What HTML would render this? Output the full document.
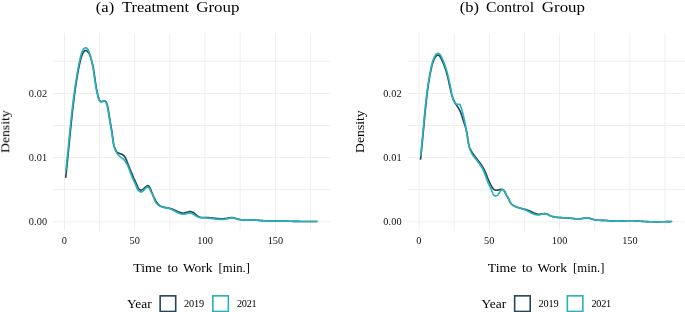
<!DOCTYPE html>
<html><head><meta charset="utf-8"><title>Density</title>
<style>
html,body{margin:0;padding:0;background:#fff;}
body{width:685px;height:312px;overflow:hidden;font-family:"Liberation Serif",serif;}
svg{display:block;font-family:"Liberation Serif",serif;}
.g line{stroke:#efefef;stroke-width:1;}
.t text{font-size:10.3px;fill:#111;}
.c path{fill:none;stroke-width:1.65;stroke-linejoin:round;stroke-linecap:butt;}
</style></head><body>
<svg width="685" height="312" viewBox="0 0 685 312">
<rect width="685" height="312" fill="#fff"/>
<g class="g">
<line x1="64.45" x2="64.45" y1="33.0" y2="230.8"/>
<line x1="99.61" x2="99.61" y1="33.0" y2="230.8"/>
<line x1="134.77" x2="134.77" y1="33.0" y2="230.8"/>
<line x1="169.92" x2="169.92" y1="33.0" y2="230.8"/>
<line x1="205.08" x2="205.08" y1="33.0" y2="230.8"/>
<line x1="240.24" x2="240.24" y1="33.0" y2="230.8"/>
<line x1="275.40" x2="275.40" y1="33.0" y2="230.8"/>
<line x1="310.55" x2="310.55" y1="33.0" y2="230.8"/>
<line x1="53.2" x2="330.1" y1="221.80" y2="221.80"/>
<line x1="53.2" x2="330.1" y1="189.70" y2="189.70"/>
<line x1="53.2" x2="330.1" y1="157.60" y2="157.60"/>
<line x1="53.2" x2="330.1" y1="125.50" y2="125.50"/>
<line x1="53.2" x2="330.1" y1="93.40" y2="93.40"/>
<line x1="53.2" x2="330.1" y1="61.30" y2="61.30"/>
<line x1="418.95" x2="418.95" y1="33.0" y2="230.8"/>
<line x1="454.11" x2="454.11" y1="33.0" y2="230.8"/>
<line x1="489.26" x2="489.26" y1="33.0" y2="230.8"/>
<line x1="524.42" x2="524.42" y1="33.0" y2="230.8"/>
<line x1="559.58" x2="559.58" y1="33.0" y2="230.8"/>
<line x1="594.74" x2="594.74" y1="33.0" y2="230.8"/>
<line x1="629.89" x2="629.89" y1="33.0" y2="230.8"/>
<line x1="665.05" x2="665.05" y1="33.0" y2="230.8"/>
<line x1="407.7" x2="684.6" y1="221.80" y2="221.80"/>
<line x1="407.7" x2="684.6" y1="189.70" y2="189.70"/>
<line x1="407.7" x2="684.6" y1="157.60" y2="157.60"/>
<line x1="407.7" x2="684.6" y1="125.50" y2="125.50"/>
<line x1="407.7" x2="684.6" y1="93.40" y2="93.40"/>
<line x1="407.7" x2="684.6" y1="61.30" y2="61.30"/>
</g>
<g class="c">
<path stroke="#264653" d="M65.67,177.80 L65.71,177.39 L65.76,176.98 L65.80,176.57 L65.85,176.16 L65.89,175.75 L65.94,175.34 L65.98,174.93 L66.03,174.52 L66.07,174.11 L66.12,173.70 L66.16,173.29 L66.21,172.88 L66.25,172.47 L66.30,172.06 L66.34,171.65 L66.38,171.24 L66.43,170.83 L66.47,170.42 L66.52,170.01 L66.56,169.60 L66.60,169.19 L66.65,168.78 L66.69,168.37 L66.73,167.96 L66.77,167.55 L66.82,167.14 L66.86,166.73 L66.90,166.32 L66.94,165.91 L66.99,165.50 L67.03,165.09 L67.07,164.68 L67.11,164.27 L67.16,163.86 L67.20,163.45 L67.24,163.03 L67.28,162.62 L67.32,162.21 L67.37,161.80 L67.41,161.39 L67.45,160.98 L67.49,160.57 L67.53,160.16 L67.57,159.75 L67.61,159.34 L67.66,158.93 L67.70,158.52 L67.74,158.11 L67.78,157.70 L67.82,157.29 L67.86,156.88 L67.90,156.47 L67.94,156.06 L67.98,155.65 L68.02,155.24 L68.06,154.83 L68.10,154.42 L68.14,154.01 L68.19,153.60 L68.23,153.19 L68.27,152.78 L68.31,152.37 L68.35,151.96 L68.39,151.54 L68.43,151.13 L68.47,150.72 L68.51,150.31 L68.55,149.90 L68.59,149.49 L68.63,149.08 L68.67,148.67 L68.71,148.26 L68.75,147.85 L68.79,147.44 L68.83,147.03 L68.87,146.62 L68.91,146.21 L68.95,145.80 L68.99,145.39 L69.03,144.98 L69.07,144.57 L69.11,144.16 L69.15,143.75 L69.19,143.34 L69.23,142.93 L69.27,142.52 L69.31,142.11 L69.35,141.70 L69.39,141.29 L69.43,140.88 L69.47,140.47 L69.51,140.06 L69.55,139.65 L69.59,139.23 L69.63,138.82 L69.67,138.41 L69.71,138.00 L69.75,137.59 L69.79,137.18 L69.83,136.77 L69.87,136.36 L69.91,135.95 L69.95,135.54 L69.99,135.13 L70.04,134.72 L70.08,134.31 L70.12,133.90 L70.16,133.49 L70.20,133.08 L70.24,132.67 L70.28,132.26 L70.32,131.85 L70.36,131.44 L70.40,131.03 L70.44,130.62 L70.49,130.21 L70.53,129.80 L70.57,129.39 L70.61,128.98 L70.65,128.57 L70.69,128.16 L70.73,127.75 L70.78,127.34 L70.82,126.93 L70.86,126.52 L70.90,126.11 L70.94,125.70 L70.98,125.29 L71.03,124.88 L71.07,124.47 L71.11,124.06 L71.15,123.65 L71.20,123.24 L71.24,122.83 L71.28,122.42 L71.32,122.01 L71.37,121.60 L71.41,121.19 L71.45,120.78 L71.50,120.37 L71.54,119.96 L71.58,119.55 L71.63,119.14 L71.67,118.73 L71.71,118.32 L71.76,117.91 L71.80,117.50 L71.85,117.09 L71.89,116.68 L71.93,116.27 L71.98,115.86 L72.02,115.45 L72.07,115.04 L72.11,114.63 L72.16,114.22 L72.20,113.81 L72.25,113.40 L72.29,112.99 L72.34,112.58 L72.39,112.17 L72.43,111.76 L72.48,111.35 L72.52,110.94 L72.57,110.53 L72.62,110.12 L72.66,109.71 L72.71,109.30 L72.76,108.89 L72.80,108.49 L72.85,108.08 L72.90,107.67 L72.95,107.26 L72.99,106.85 L73.04,106.44 L73.09,106.03 L73.14,105.62 L73.19,105.21 L73.23,104.80 L73.28,104.39 L73.33,103.98 L73.38,103.57 L73.43,103.16 L73.48,102.75 L73.53,102.34 L73.58,101.93 L73.63,101.52 L73.68,101.12 L73.73,100.71 L73.78,100.30 L73.83,99.89 L73.88,99.48 L73.93,99.07 L73.99,98.66 L74.04,98.25 L74.09,97.84 L74.14,97.43 L74.19,97.02 L74.25,96.61 L74.30,96.20 L74.35,95.80 L74.40,95.39 L74.46,94.98 L74.51,94.57 L74.56,94.16 L74.62,93.75 L74.67,93.34 L74.73,92.93 L74.78,92.52 L74.84,92.11 L74.89,91.71 L74.95,91.30 L75.00,90.89 L75.06,90.48 L75.12,90.07 L75.17,89.66 L75.23,89.25 L75.29,88.84 L75.34,88.44 L75.40,88.03 L75.46,87.62 L75.52,87.21 L75.58,86.80 L75.63,86.39 L75.69,85.99 L75.75,85.58 L75.81,85.17 L75.87,84.76 L75.93,84.35 L76.00,83.94 L76.06,83.54 L76.12,83.13 L76.18,82.72 L76.24,82.31 L76.31,81.91 L76.37,81.50 L76.43,81.09 L76.50,80.68 L76.56,80.28 L76.63,79.87 L76.69,79.46 L76.76,79.05 L76.83,78.65 L76.89,78.24 L76.96,77.83 L77.03,77.43 L77.10,77.02 L77.17,76.61 L77.24,76.21 L77.31,75.80 L77.38,75.39 L77.45,74.99 L77.52,74.58 L77.59,74.18 L77.66,73.77 L77.74,73.36 L77.81,72.96 L77.88,72.55 L77.96,72.15 L78.03,71.74 L78.11,71.34 L78.19,70.93 L78.26,70.53 L78.34,70.12 L78.42,69.72 L78.50,69.31 L78.58,68.91 L78.66,68.51 L78.74,68.10 L78.82,67.70 L78.90,67.29 L78.98,66.89 L79.07,66.49 L79.15,66.08 L79.24,65.68 L79.32,65.28 L79.41,64.87 L79.49,64.47 L79.58,64.07 L79.67,63.67 L79.76,63.27 L79.85,62.86 L79.94,62.46 L80.03,62.06 L80.12,61.66 L80.21,61.26 L80.31,60.86 L80.40,60.46 L80.50,60.06 L80.60,59.66 L80.70,59.26 L80.80,58.86 L80.91,58.46 L81.02,58.07 L81.14,57.67 L81.25,57.28 L81.38,56.89 L81.51,56.50 L81.64,56.11 L81.78,55.72 L81.92,55.34 L82.08,54.95 L82.23,54.57 L82.40,54.20 L82.57,53.82 L82.76,53.45 L82.95,53.08 L83.17,52.72 L83.39,52.36 L83.64,52.01 L83.91,51.67 L84.20,51.33 L84.52,51.01 L84.85,50.72 L85.32,50.49 L85.79,50.45 L86.27,50.56 L86.73,50.80 L87.06,51.03 L87.38,51.29 L87.68,51.57 L87.96,51.86 L88.23,52.17 L88.48,52.49 L88.71,52.82 L88.93,53.17 L89.14,53.52 L89.33,53.89 L89.51,54.26 L89.69,54.64 L89.85,55.02 L90.00,55.42 L90.15,55.81 L90.29,56.21 L90.42,56.62 L90.55,57.02 L90.67,57.43 L90.79,57.83 L90.91,58.24 L91.02,58.64 L91.13,59.05 L91.25,59.45 L91.35,59.85 L91.46,60.25 L91.57,60.65 L91.67,61.05 L91.77,61.45 L91.87,61.85 L91.97,62.25 L92.09,62.68 L92.22,63.09 L92.34,63.51 L92.46,63.94 L92.57,64.38 L92.68,64.82 L92.79,65.28 L92.90,65.74 L93.00,66.21 L93.10,66.69 L93.20,67.17 L93.30,67.66 L93.39,68.15 L93.48,68.64 L93.55,69.05 L93.61,69.47 L93.68,69.88 L93.74,70.30 L93.80,70.71 L93.86,71.12 L93.92,71.53 L93.98,71.94 L94.04,72.35 L94.10,72.75 L94.16,73.16 L94.22,73.56 L94.27,73.96 L94.33,74.36 L94.38,74.76 L94.46,75.28 L94.53,75.81 L94.60,76.33 L94.67,76.85 L94.74,77.37 L94.81,77.89 L94.88,78.40 L94.96,78.91 L95.03,79.43 L95.10,79.94 L95.17,80.45 L95.24,80.96 L95.32,81.47 L95.39,81.98 L95.47,82.49 L95.54,83.00 L95.62,83.51 L95.70,84.02 L95.78,84.54 L95.87,85.05 L95.95,85.57 L96.04,86.09 L96.12,86.61 L96.21,87.13 L96.31,87.65 L96.38,88.05 L96.45,88.44 L96.52,88.84 L96.60,89.24 L96.68,89.63 L96.76,90.03 L96.84,90.43 L96.92,90.84 L97.00,91.24 L97.09,91.64 L97.17,92.05 L97.26,92.46 L97.36,92.88 L97.46,93.31 L97.56,93.74 L97.66,94.19 L97.78,94.65 L97.89,95.13 L98.02,95.62 L98.15,96.12 L98.29,96.64 L98.44,97.18 L98.60,97.74 L98.76,98.32 L98.88,98.70 L99.06,99.26 L99.26,99.77 L99.46,100.22 L99.68,100.61 L100.00,101.02 L100.34,101.34 L100.73,101.55 L101.16,101.64 L101.62,101.64 L102.10,101.55 L102.57,101.40 L103.02,101.22 L103.48,101.03 L103.97,100.87 L104.48,100.84 L104.97,100.99 L105.37,101.25 L105.70,101.55 L105.96,101.87 L106.21,102.25 L106.41,102.61 L106.58,102.99 L106.75,103.40 L106.92,103.87 L107.05,104.28 L107.18,104.72 L107.31,105.20 L107.43,105.70 L107.56,106.21 L107.65,106.61 L107.74,107.01 L107.83,107.42 L107.91,107.84 L108.00,108.27 L108.09,108.71 L108.17,109.16 L108.26,109.61 L108.34,110.08 L108.42,110.56 L108.50,111.04 L108.58,111.54 L108.66,112.03 L108.74,112.54 L108.82,113.05 L108.89,113.55 L108.97,114.06 L109.04,114.56 L109.12,115.05 L109.19,115.53 L109.26,116.00 L109.34,116.46 L109.41,116.91 L109.48,117.34 L109.55,117.77 L109.62,118.19 L109.68,118.61 L109.75,119.01 L109.82,119.41 L109.91,119.94 L109.99,120.45 L110.08,120.95 L110.16,121.45 L110.25,121.93 L110.33,122.41 L110.41,122.89 L110.49,123.35 L110.57,123.81 L110.65,124.27 L110.73,124.72 L110.81,125.17 L110.89,125.61 L110.96,126.06 L111.04,126.50 L111.11,126.93 L111.19,127.37 L111.26,127.80 L111.33,128.23 L111.41,128.67 L111.48,129.10 L111.55,129.53 L111.62,129.97 L111.69,130.40 L111.76,130.84 L111.84,131.28 L111.91,131.73 L111.98,132.18 L112.05,132.64 L112.12,133.12 L112.20,133.61 L112.27,134.13 L112.33,134.53 L112.39,134.95 L112.45,135.38 L112.52,135.86 L112.56,136.26 L112.61,136.67 L112.65,137.08 L112.70,137.50 L112.75,137.92 L112.79,138.34 L112.84,138.77 L112.90,139.19 L112.95,139.62 L113.00,140.04 L113.06,140.47 L113.11,140.89 L113.17,141.30 L113.23,141.72 L113.29,142.12 L113.36,142.52 L113.45,143.11 L113.55,143.68 L113.66,144.24 L113.77,144.77 L113.88,145.29 L114.00,145.78 L114.13,146.17 L114.26,146.55 L114.39,146.94 L114.53,147.32 L114.68,147.70 L114.83,148.08 L114.98,148.46 L115.15,148.83 L115.31,149.20 L115.49,149.57 L115.67,149.94 L115.86,150.30 L116.05,150.66 L116.26,151.02 L116.47,151.37 L116.70,151.70 L117.04,152.11 L117.42,152.48 L117.84,152.79 L118.31,153.05 L118.68,153.22 L119.07,153.36 L119.47,153.50 L119.88,153.63 L120.29,153.75 L120.70,153.88 L121.10,154.01 L121.49,154.16 L121.87,154.32 L122.24,154.51 L122.58,154.71 L123.02,155.01 L123.43,155.35 L123.81,155.71 L124.17,156.11 L124.42,156.42 L124.67,156.74 L124.90,157.08 L125.12,157.43 L125.34,157.79 L125.54,158.16 L125.73,158.53 L125.92,158.92 L126.10,159.30 L126.28,159.70 L126.45,160.10 L126.62,160.50 L126.78,160.90 L126.94,161.30 L127.09,161.71 L127.25,162.11 L127.40,162.51 L127.56,162.91 L127.71,163.30 L127.86,163.70 L128.01,164.09 L128.16,164.48 L128.32,164.86 L128.47,165.25 L128.62,165.63 L128.77,166.01 L128.92,166.39 L129.07,166.77 L129.22,167.14 L129.37,167.52 L129.52,167.89 L129.67,168.26 L129.86,168.76 L130.06,169.25 L130.26,169.74 L130.47,170.23 L130.67,170.72 L130.87,171.21 L131.07,171.70 L131.27,172.18 L131.48,172.67 L131.68,173.16 L131.89,173.64 L132.09,174.13 L132.30,174.62 L132.51,175.11 L132.67,175.48 L132.83,175.85 L132.99,176.22 L133.15,176.59 L133.31,176.96 L133.47,177.34 L133.64,177.71 L133.80,178.09 L133.97,178.47 L134.13,178.85 L134.30,179.23 L134.47,179.61 L134.64,180.00 L134.81,180.38 L134.99,180.77 L135.16,181.16 L135.34,181.56 L135.52,181.95 L135.70,182.35 L135.88,182.76 L136.06,183.16 L136.24,183.57 L136.43,183.98 L136.62,184.39 L136.81,184.81 L137.00,185.23 L137.19,185.65 L137.39,186.08 L137.58,186.50 L137.79,186.92 L137.99,187.33 L138.20,187.72 L138.41,188.11 L138.63,188.47 L138.86,188.80 L139.17,189.21 L139.50,189.56 L139.84,189.84 L140.20,190.05 L140.67,190.19 L141.17,190.19 L141.59,190.07 L142.03,189.87 L142.49,189.59 L142.84,189.35 L143.19,189.07 L143.55,188.78 L143.91,188.47 L144.27,188.15 L144.63,187.82 L144.98,187.49 L145.34,187.18 L145.69,186.87 L146.04,186.58 L146.38,186.32 L146.71,186.09 L147.13,185.84 L147.54,185.68 L148.03,185.65 L148.48,185.83 L148.83,186.09 L149.15,186.45 L149.46,186.89 L149.68,187.27 L149.89,187.67 L150.10,188.09 L150.30,188.53 L150.49,188.97 L150.67,189.42 L150.85,189.86 L151.02,190.29 L151.19,190.71 L151.35,191.11 L151.51,191.49 L151.66,191.87 L151.87,192.35 L152.07,192.83 L152.27,193.30 L152.47,193.78 L152.67,194.26 L152.87,194.74 L153.02,195.11 L153.18,195.49 L153.34,195.87 L153.50,196.25 L153.66,196.63 L153.83,197.01 L154.00,197.39 L154.17,197.78 L154.35,198.16 L154.53,198.54 L154.71,198.92 L154.90,199.30 L155.10,199.68 L155.30,200.05 L155.50,200.42 L155.71,200.78 L155.92,201.15 L156.14,201.50 L156.37,201.85 L156.60,202.19 L156.84,202.53 L157.09,202.86 L157.34,203.18 L157.60,203.49 L157.87,203.80 L158.14,204.09 L158.43,204.37 L158.82,204.74 L159.22,205.08 L159.65,205.40 L160.08,205.70 L160.54,205.97 L161.01,206.22 L161.38,206.39 L161.75,206.54 L162.13,206.69 L162.52,206.82 L162.92,206.94 L163.32,207.05 L163.73,207.16 L164.14,207.25 L164.56,207.35 L164.98,207.43 L165.40,207.51 L165.83,207.59 L166.25,207.67 L166.68,207.74 L167.10,207.82 L167.52,207.90 L167.95,207.97 L168.36,208.05 L168.78,208.14 L169.19,208.23 L169.60,208.33 L170.00,208.43 L170.40,208.54 L170.79,208.65 L171.18,208.78 L171.56,208.90 L171.95,209.03 L172.33,209.17 L172.71,209.31 L173.08,209.46 L173.46,209.61 L173.83,209.77 L174.21,209.93 L174.58,210.09 L174.96,210.26 L175.33,210.43 L175.71,210.60 L176.09,210.78 L176.47,210.96 L176.86,211.13 L177.24,211.31 L177.63,211.49 L178.02,211.66 L178.41,211.82 L178.80,211.98 L179.19,212.14 L179.58,212.28 L179.98,212.42 L180.37,212.54 L180.77,212.66 L181.17,212.76 L181.57,212.84 L181.97,212.91 L182.37,212.97 L182.77,213.00 L183.17,213.02 L183.58,213.02 L183.98,212.99 L184.38,212.94 L184.79,212.87 L185.19,212.78 L185.59,212.67 L186.00,212.55 L186.40,212.43 L186.81,212.30 L187.21,212.17 L187.61,212.04 L188.02,211.93 L188.42,211.83 L188.82,211.74 L189.22,211.68 L189.62,211.64 L190.15,211.63 L190.67,211.68 L191.20,211.78 L191.59,211.88 L191.97,212.02 L192.36,212.17 L192.73,212.34 L193.11,212.54 L193.48,212.75 L193.85,212.98 L194.21,213.23 L194.56,213.48 L194.91,213.75 L195.25,214.03 L195.59,214.31 L195.92,214.59 L196.26,214.88 L196.59,215.16 L196.92,215.44 L197.25,215.71 L197.58,215.96 L197.92,216.21 L198.26,216.43 L198.61,216.64 L199.08,216.88 L199.57,217.07 L200.08,217.22 L200.59,217.33 L201.12,217.41 L201.52,217.45 L201.93,217.47 L202.34,217.49 L202.76,217.49 L203.17,217.49 L203.59,217.49 L204.01,217.49 L204.43,217.48 L204.85,217.48 L205.27,217.49 L205.69,217.50 L206.11,217.51 L206.52,217.52 L206.94,217.54 L207.36,217.57 L207.77,217.59 L208.19,217.62 L208.60,217.65 L209.02,217.69 L209.43,217.72 L209.85,217.76 L210.26,217.80 L210.68,217.84 L211.09,217.88 L211.50,217.93 L211.92,217.97 L212.33,218.01 L212.74,218.06 L213.15,218.11 L213.56,218.15 L213.98,218.20 L214.39,218.24 L214.80,218.29 L215.21,218.33 L215.62,218.38 L216.03,218.42 L216.44,218.46 L216.85,218.50 L217.26,218.53 L217.67,218.57 L218.08,218.60 L218.49,218.63 L218.90,218.66 L219.31,218.68 L219.72,218.71 L220.13,218.72 L220.54,218.74 L220.95,218.75 L221.36,218.76 L221.77,218.76 L222.18,218.76 L222.59,218.75 L223.00,218.74 L223.41,218.73 L223.82,218.71 L224.23,218.68 L224.64,218.65 L225.05,218.61 L225.46,218.57 L225.87,218.52 L226.28,218.46 L226.69,218.40 L227.11,218.33 L227.52,218.25 L227.93,218.17 L228.34,218.09 L228.75,218.00 L229.16,217.92 L229.57,217.84 L229.98,217.77 L230.39,217.71 L230.80,217.66 L231.21,217.63 L231.61,217.61 L232.02,217.62 L232.42,217.64 L232.82,217.69 L233.22,217.76 L233.62,217.85 L234.01,217.95 L234.41,218.07 L234.80,218.19 L235.20,218.33 L235.59,218.46 L235.98,218.59 L236.38,218.72 L236.78,218.85 L237.17,218.96 L237.57,219.07 L237.97,219.17 L238.37,219.25 L238.77,219.33 L239.17,219.41 L239.57,219.47 L239.98,219.53 L240.38,219.62 L240.79,219.69 L241.19,219.76 L241.60,219.81 L242.00,219.83 L242.41,219.85 L242.82,219.86 L243.23,219.87 L243.64,219.87 L244.05,219.88 L244.46,219.88 L244.87,219.87 L245.28,219.87 L245.69,219.86 L246.10,219.86 L246.51,219.85 L246.92,219.84 L247.34,219.83 L247.75,219.82 L248.16,219.81 L248.57,219.81 L248.99,219.80 L249.40,219.80 L249.81,219.80 L250.23,219.80 L250.64,219.81 L251.05,219.82 L251.46,219.83 L251.88,219.85 L252.29,219.87 L252.70,219.89 L253.11,219.92 L253.52,219.95 L253.94,219.98 L254.35,220.01 L254.76,220.04 L255.17,220.08 L255.58,220.11 L256.00,220.15 L256.41,220.19 L256.82,220.22 L257.23,220.26 L257.64,220.30 L258.06,220.34 L258.47,220.37 L258.88,220.41 L259.29,220.44 L259.70,220.48 L260.11,220.51 L260.52,220.54 L260.94,220.57 L261.35,220.59 L261.76,220.62 L262.17,220.64 L262.58,220.67 L262.99,220.69 L263.41,220.71 L263.82,220.73 L264.23,220.75 L264.64,220.76 L265.05,220.78 L265.46,220.79 L265.87,220.81 L266.29,220.82 L266.70,220.83 L267.11,220.84 L267.52,220.85 L267.93,220.86 L268.34,220.87 L268.76,220.88 L269.17,220.89 L269.58,220.90 L269.99,220.90 L270.40,220.91 L270.81,220.92 L271.22,220.92 L271.64,220.93 L272.05,220.93 L272.46,220.94 L272.87,220.94 L273.28,220.95 L273.69,220.95 L274.11,220.96 L274.52,220.96 L274.93,220.97 L275.34,220.97 L275.75,220.98 L276.16,220.98 L276.58,220.99 L276.99,220.99 L277.40,221.00 L277.81,221.01 L278.22,221.01 L278.64,221.02 L279.05,221.03 L279.46,221.03 L279.87,221.04 L280.28,221.05 L280.70,221.05 L281.11,221.06 L281.52,221.07 L281.93,221.08 L282.34,221.09 L282.76,221.09 L283.17,221.10 L283.58,221.11 L283.99,221.12 L284.40,221.13 L284.82,221.14 L285.23,221.14 L285.64,221.15 L286.05,221.16 L286.46,221.17 L286.88,221.18 L287.29,221.19 L287.70,221.20 L288.11,221.21 L288.53,221.22 L288.94,221.23 L289.35,221.24 L289.76,221.24 L290.17,221.25 L290.59,221.26 L291.00,221.27 L291.41,221.28 L291.82,221.29 L292.24,221.30 L292.65,221.31 L293.06,221.32 L293.47,221.32 L293.89,221.33 L294.30,221.34 L294.71,221.35 L295.12,221.36 L295.53,221.37 L295.95,221.37 L296.36,221.38 L296.77,221.39 L297.18,221.40 L297.60,221.41 L298.01,221.41 L298.42,221.42 L298.83,221.43 L299.25,221.43 L299.66,221.44 L300.07,221.45 L300.48,221.45 L300.90,221.46 L301.31,221.46 L301.72,221.47 L302.13,221.48 L302.55,221.48 L302.96,221.49 L303.37,221.49 L303.78,221.49 L304.19,221.50 L304.61,221.50 L305.02,221.51 L305.43,221.51 L305.84,221.51 L306.26,221.51 L306.67,221.52 L307.08,221.52 L307.49,221.52 L307.91,221.52 L308.32,221.52 L308.73,221.52 L309.14,221.52 L309.56,221.52 L309.97,221.52 L310.38,221.52 L310.79,221.52 L311.20,221.52 L311.62,221.52 L312.03,221.51 L312.44,221.51 L312.85,221.51 L313.27,221.50 L313.68,221.50 L314.09,221.50 L314.50,221.49 L314.91,221.48 L315.33,221.48 L315.74,221.47 L316.15,221.46 L316.56,221.46 L316.98,221.45 L317.11,221.45"/>
<path stroke="#27b1bb" d="M65.84,170.61 L65.89,170.20 L65.94,169.78 L65.98,169.37 L66.03,168.96 L66.08,168.54 L66.12,168.13 L66.17,167.72 L66.22,167.30 L66.26,166.89 L66.31,166.48 L66.35,166.06 L66.40,165.65 L66.44,165.24 L66.49,164.83 L66.53,164.41 L66.58,164.00 L66.62,163.59 L66.67,163.17 L66.71,162.76 L66.76,162.35 L66.80,161.93 L66.85,161.52 L66.89,161.11 L66.93,160.69 L66.98,160.28 L67.02,159.87 L67.06,159.45 L67.11,159.04 L67.15,158.63 L67.19,158.21 L67.24,157.80 L67.28,157.39 L67.32,156.97 L67.37,156.56 L67.41,156.15 L67.45,155.73 L67.49,155.32 L67.54,154.91 L67.58,154.50 L67.62,154.08 L67.66,153.67 L67.70,153.26 L67.75,152.84 L67.79,152.43 L67.83,152.02 L67.87,151.60 L67.91,151.19 L67.96,150.78 L68.00,150.36 L68.04,149.95 L68.08,149.54 L68.12,149.13 L68.16,148.71 L68.20,148.30 L68.24,147.89 L68.29,147.47 L68.33,147.06 L68.37,146.65 L68.41,146.23 L68.45,145.82 L68.49,145.41 L68.53,144.99 L68.57,144.58 L68.61,144.17 L68.65,143.76 L68.70,143.34 L68.74,142.93 L68.78,142.52 L68.82,142.10 L68.86,141.69 L68.90,141.28 L68.94,140.86 L68.98,140.45 L69.02,140.04 L69.06,139.63 L69.10,139.21 L69.14,138.80 L69.18,138.39 L69.22,137.97 L69.27,137.56 L69.31,137.15 L69.35,136.74 L69.39,136.32 L69.43,135.91 L69.47,135.50 L69.51,135.08 L69.55,134.67 L69.59,134.26 L69.63,133.85 L69.67,133.43 L69.71,133.02 L69.76,132.61 L69.80,132.19 L69.84,131.78 L69.88,131.37 L69.92,130.96 L69.96,130.54 L70.00,130.13 L70.04,129.72 L70.08,129.30 L70.13,128.89 L70.17,128.48 L70.21,128.07 L70.25,127.65 L70.29,127.24 L70.33,126.83 L70.38,126.41 L70.42,126.00 L70.46,125.59 L70.50,125.18 L70.54,124.76 L70.59,124.35 L70.63,123.94 L70.67,123.53 L70.71,123.11 L70.76,122.70 L70.80,122.29 L70.84,121.87 L70.88,121.46 L70.93,121.05 L70.97,120.64 L71.01,120.22 L71.06,119.81 L71.10,119.40 L71.14,118.99 L71.19,118.57 L71.23,118.16 L71.28,117.75 L71.32,117.34 L71.36,116.92 L71.41,116.51 L71.45,116.10 L71.50,115.68 L71.54,115.27 L71.59,114.86 L71.63,114.45 L71.68,114.03 L71.72,113.62 L71.77,113.21 L71.81,112.80 L71.86,112.38 L71.90,111.97 L71.95,111.56 L72.00,111.15 L72.04,110.73 L72.09,110.32 L72.13,109.91 L72.18,109.50 L72.23,109.08 L72.28,108.67 L72.32,108.26 L72.37,107.85 L72.42,107.44 L72.47,107.02 L72.51,106.61 L72.56,106.20 L72.61,105.79 L72.66,105.37 L72.71,104.96 L72.76,104.55 L72.81,104.14 L72.86,103.72 L72.91,103.31 L72.96,102.90 L73.01,102.49 L73.06,102.07 L73.11,101.66 L73.16,101.25 L73.21,100.84 L73.26,100.43 L73.31,100.01 L73.36,99.60 L73.41,99.19 L73.47,98.78 L73.52,98.36 L73.57,97.95 L73.62,97.54 L73.68,97.13 L73.73,96.72 L73.78,96.30 L73.84,95.89 L73.89,95.48 L73.94,95.07 L74.00,94.65 L74.05,94.24 L74.11,93.83 L74.16,93.42 L74.22,93.01 L74.27,92.59 L74.33,92.18 L74.39,91.77 L74.44,91.36 L74.50,90.95 L74.56,90.53 L74.61,90.12 L74.67,89.71 L74.73,89.30 L74.79,88.89 L74.85,88.47 L74.91,88.06 L74.97,87.65 L75.02,87.24 L75.08,86.83 L75.14,86.42 L75.20,86.00 L75.27,85.59 L75.33,85.18 L75.39,84.77 L75.45,84.36 L75.51,83.95 L75.57,83.54 L75.64,83.12 L75.70,82.71 L75.76,82.30 L75.83,81.89 L75.89,81.48 L75.95,81.07 L76.02,80.66 L76.08,80.25 L76.15,79.84 L76.21,79.43 L76.28,79.02 L76.35,78.61 L76.41,78.20 L76.48,77.79 L76.55,77.38 L76.61,76.97 L76.68,76.56 L76.75,76.15 L76.82,75.74 L76.89,75.33 L76.96,74.92 L77.03,74.51 L77.10,74.10 L77.17,73.69 L77.24,73.29 L77.31,72.88 L77.38,72.47 L77.46,72.06 L77.53,71.65 L77.60,71.24 L77.68,70.84 L77.75,70.43 L77.82,70.02 L77.90,69.61 L77.97,69.21 L78.05,68.80 L78.13,68.39 L78.20,67.99 L78.28,67.58 L78.36,67.17 L78.43,66.77 L78.51,66.36 L78.59,65.95 L78.67,65.55 L78.75,65.14 L78.83,64.74 L78.91,64.33 L78.99,63.93 L79.07,63.52 L79.15,63.12 L79.24,62.71 L79.32,62.31 L79.40,61.91 L79.48,61.50 L79.57,61.10 L79.65,60.70 L79.74,60.29 L79.82,59.89 L79.91,59.49 L80.00,59.08 L80.09,58.68 L80.18,58.27 L80.28,57.87 L80.37,57.47 L80.47,57.06 L80.57,56.66 L80.67,56.25 L80.78,55.84 L80.88,55.44 L80.99,55.03 L81.10,54.62 L81.22,54.21 L81.34,53.81 L81.46,53.40 L81.59,52.99 L81.73,52.59 L81.88,52.19 L82.03,51.80 L82.20,51.41 L82.37,51.03 L82.56,50.65 L82.76,50.29 L82.98,49.94 L83.21,49.59 L83.46,49.26 L83.73,48.95 L84.02,48.64 L84.32,48.36 L84.64,48.12 L85.09,47.88 L85.57,47.77 L86.05,47.82 L86.52,48.00 L86.95,48.27 L87.32,48.62 L87.66,49.03 L87.89,49.38 L88.10,49.75 L88.29,50.13 L88.47,50.53 L88.65,50.94 L88.82,51.34 L88.98,51.75 L89.14,52.15 L89.29,52.56 L89.44,52.96 L89.58,53.37 L89.73,53.77 L89.86,54.17 L89.99,54.58 L90.12,54.98 L90.25,55.38 L90.37,55.78 L90.49,56.18 L90.61,56.58 L90.72,56.98 L90.83,57.38 L90.94,57.78 L91.05,58.18 L91.15,58.59 L91.25,58.99 L91.35,59.39 L91.45,59.79 L91.55,60.19 L91.64,60.59 L91.73,60.99 L91.82,61.40 L91.91,61.80 L92.00,62.20 L92.08,62.60 L92.16,63.01 L92.25,63.41 L92.33,63.81 L92.41,64.21 L92.48,64.62 L92.56,65.02 L92.63,65.43 L92.71,65.83 L92.78,66.23 L92.85,66.64 L92.92,67.04 L92.99,67.45 L93.05,67.85 L93.12,68.26 L93.19,68.66 L93.25,69.07 L93.31,69.47 L93.38,69.88 L93.44,70.28 L93.50,70.69 L93.56,71.09 L93.62,71.50 L93.68,71.91 L93.74,72.31 L93.80,72.72 L93.85,73.13 L93.91,73.53 L93.97,73.94 L94.03,74.35 L94.08,74.76 L94.14,75.16 L94.19,75.57 L94.25,75.98 L94.31,76.39 L94.36,76.80 L94.42,77.20 L94.48,77.61 L94.53,78.02 L94.59,78.43 L94.65,78.84 L94.70,79.25 L94.76,79.66 L94.82,80.07 L94.88,80.48 L94.93,80.89 L94.99,81.30 L95.05,81.71 L95.11,82.12 L95.17,82.54 L95.24,82.95 L95.30,83.36 L95.36,83.77 L95.43,84.18 L95.49,84.60 L95.56,85.01 L95.63,85.42 L95.69,85.83 L95.76,86.25 L95.83,86.66 L95.90,87.07 L95.98,87.49 L96.05,87.90 L96.13,88.32 L96.20,88.73 L96.28,89.15 L96.36,89.56 L96.44,89.98 L96.53,90.39 L96.61,90.81 L96.70,91.22 L96.79,91.64 L96.87,92.05 L96.97,92.47 L97.06,92.89 L97.15,93.30 L97.25,93.72 L97.35,94.14 L97.45,94.56 L97.56,94.97 L97.66,95.39 L97.77,95.81 L97.88,96.23 L97.99,96.65 L98.11,97.07 L98.22,97.49 L98.34,97.91 L98.47,98.33 L98.59,98.74 L98.73,99.15 L98.87,99.54 L99.02,99.92 L99.25,100.38 L99.51,100.79 L99.80,101.13 L100.13,101.40 L100.51,101.57 L100.94,101.65 L101.43,101.62 L101.94,101.51 L102.33,101.38 L102.71,101.22 L103.09,101.06 L103.58,100.89 L104.04,100.83 L104.47,100.91 L104.87,101.10 L105.23,101.38 L105.55,101.73 L105.84,102.14 L106.10,102.60 L106.28,102.97 L106.44,103.37 L106.59,103.78 L106.73,104.20 L106.86,104.64 L106.98,105.08 L107.09,105.52 L107.20,105.96 L107.30,106.40 L107.40,106.83 L107.49,107.26 L107.58,107.69 L107.67,108.11 L107.75,108.53 L107.83,108.94 L107.91,109.35 L107.98,109.76 L108.06,110.17 L108.12,110.58 L108.19,110.98 L108.26,111.38 L108.32,111.78 L108.38,112.18 L108.45,112.58 L108.51,112.98 L108.57,113.37 L108.63,113.77 L108.69,114.17 L108.75,114.56 L108.81,114.96 L108.87,115.36 L108.93,115.75 L108.99,116.15 L109.05,116.55 L109.11,116.95 L109.18,117.35 L109.24,117.76 L109.31,118.16 L109.38,118.56 L109.44,118.97 L109.51,119.37 L109.58,119.78 L109.65,120.19 L109.72,120.59 L109.79,121.00 L109.86,121.41 L109.93,121.82 L110.00,122.23 L110.07,122.64 L110.14,123.05 L110.21,123.46 L110.28,123.87 L110.35,124.28 L110.43,124.70 L110.50,125.11 L110.57,125.52 L110.64,125.94 L110.71,126.35 L110.78,126.76 L110.85,127.18 L110.92,127.59 L111.00,128.01 L111.07,128.42 L111.14,128.84 L111.20,129.25 L111.27,129.67 L111.34,130.09 L111.41,130.50 L111.48,130.92 L111.54,131.33 L111.61,131.75 L111.67,132.16 L111.74,132.58 L111.80,132.99 L111.87,133.41 L111.93,133.82 L111.99,134.24 L112.05,134.65 L112.11,135.07 L112.17,135.48 L112.23,135.90 L112.29,136.31 L112.35,136.72 L112.40,137.14 L112.46,137.55 L112.52,137.96 L112.58,138.37 L112.64,138.79 L112.71,139.20 L112.77,139.61 L112.83,140.02 L112.90,140.43 L112.97,140.83 L113.04,141.24 L113.11,141.65 L113.18,142.06 L113.26,142.46 L113.33,142.87 L113.42,143.27 L113.50,143.68 L113.58,144.08 L113.67,144.48 L113.77,144.88 L113.86,145.28 L113.96,145.68 L114.06,146.08 L114.17,146.48 L114.28,146.87 L114.40,147.27 L114.52,147.66 L114.64,148.06 L114.77,148.45 L114.90,148.84 L115.04,149.23 L115.18,149.62 L115.33,150.00 L115.49,150.39 L115.65,150.76 L115.82,151.14 L116.00,151.51 L116.18,151.88 L116.38,152.24 L116.58,152.60 L116.79,152.95 L117.01,153.29 L117.24,153.63 L117.48,153.96 L117.73,154.28 L117.99,154.60 L118.26,154.90 L118.55,155.20 L118.84,155.49 L119.15,155.77 L119.46,156.04 L119.78,156.31 L120.11,156.57 L120.44,156.83 L120.78,157.08 L121.12,157.34 L121.45,157.60 L121.78,157.86 L122.11,158.12 L122.44,158.38 L122.76,158.65 L123.07,158.93 L123.37,159.22 L123.66,159.51 L123.94,159.80 L124.22,160.11 L124.48,160.42 L124.74,160.74 L125.00,161.06 L125.24,161.39 L125.48,161.72 L125.71,162.06 L125.93,162.40 L126.15,162.75 L126.36,163.10 L126.57,163.46 L126.77,163.82 L126.97,164.19 L127.16,164.56 L127.34,164.93 L127.52,165.31 L127.70,165.69 L127.87,166.07 L128.04,166.45 L128.21,166.84 L128.37,167.23 L128.53,167.62 L128.69,168.01 L128.84,168.41 L128.99,168.80 L129.14,169.20 L129.29,169.60 L129.44,170.00 L129.58,170.40 L129.73,170.80 L129.87,171.20 L130.01,171.60 L130.16,172.00 L130.30,172.40 L130.44,172.80 L130.59,173.20 L130.73,173.59 L130.88,173.99 L131.02,174.38 L131.17,174.77 L131.32,175.16 L131.48,175.55 L131.63,175.94 L131.79,176.32 L131.95,176.70 L132.11,177.08 L132.27,177.45 L132.44,177.83 L132.61,178.20 L132.78,178.57 L132.95,178.94 L133.12,179.31 L133.29,179.68 L133.46,180.05 L133.64,180.41 L133.81,180.78 L133.99,181.15 L134.16,181.52 L134.33,181.89 L134.50,182.26 L134.68,182.63 L134.85,183.00 L135.02,183.38 L135.18,183.75 L135.35,184.13 L135.52,184.51 L135.68,184.90 L135.84,185.29 L136.00,185.68 L136.15,186.07 L136.30,186.47 L136.45,186.87 L136.60,187.27 L136.76,187.67 L136.92,188.07 L137.09,188.46 L137.27,188.85 L137.47,189.22 L137.68,189.59 L137.92,189.94 L138.18,190.27 L138.46,190.59 L138.77,190.89 L139.12,191.16 L139.49,191.41 L139.88,191.62 L140.28,191.79 L140.68,191.90 L141.20,191.96 L141.69,191.90 L142.16,191.72 L142.60,191.45 L142.92,191.20 L143.23,190.91 L143.54,190.60 L143.84,190.26 L144.13,189.91 L144.43,189.55 L144.73,189.19 L145.03,188.83 L145.34,188.49 L145.66,188.18 L145.99,187.89 L146.33,187.64 L146.68,187.43 L147.16,187.23 L147.63,187.14 L148.07,187.17 L148.46,187.33 L148.83,187.59 L149.16,187.95 L149.46,188.38 L149.67,188.75 L149.88,189.14 L150.07,189.55 L150.26,189.98 L150.45,190.41 L150.63,190.84 L150.81,191.27 L151.00,191.68 L151.18,192.08 L151.37,192.46 L151.56,192.83 L151.75,193.19 L151.94,193.55 L152.19,194.02 L152.43,194.49 L152.66,194.97 L152.82,195.33 L152.99,195.70 L153.14,196.08 L153.29,196.46 L153.44,196.85 L153.59,197.24 L153.74,197.63 L153.88,198.03 L154.03,198.42 L154.18,198.82 L154.33,199.21 L154.49,199.60 L154.65,200.00 L154.82,200.38 L154.99,200.77 L155.18,201.14 L155.37,201.52 L155.57,201.88 L155.78,202.24 L156.00,202.59 L156.24,202.93 L156.49,203.26 L156.75,203.58 L157.03,203.89 L157.32,204.19 L157.62,204.48 L157.93,204.75 L158.26,205.02 L158.59,205.27 L158.93,205.51 L159.28,205.73 L159.64,205.95 L160.01,206.15 L160.38,206.34 L160.76,206.51 L161.14,206.67 L161.53,206.81 L161.93,206.95 L162.32,207.07 L162.73,207.18 L163.13,207.28 L163.54,207.38 L163.95,207.47 L164.36,207.55 L164.77,207.63 L165.18,207.70 L165.60,207.78 L166.01,207.85 L166.42,207.93 L166.83,208.00 L167.24,208.08 L167.65,208.16 L168.06,208.25 L168.46,208.35 L168.86,208.45 L169.26,208.56 L169.65,208.68 L170.04,208.81 L170.42,208.95 L170.80,209.10 L171.18,209.26 L171.56,209.43 L171.93,209.60 L172.30,209.78 L172.67,209.96 L173.04,210.15 L173.41,210.34 L173.77,210.54 L174.14,210.74 L174.51,210.94 L174.88,211.14 L175.25,211.34 L175.62,211.55 L176.00,211.75 L176.37,211.95 L176.75,212.15 L177.13,212.35 L177.51,212.54 L177.89,212.73 L178.28,212.91 L178.66,213.08 L179.05,213.25 L179.44,213.40 L179.84,213.55 L180.23,213.68 L180.62,213.80 L181.02,213.91 L181.42,214.00 L181.82,214.08 L182.22,214.14 L182.63,214.19 L183.03,214.21 L183.44,214.22 L183.85,214.20 L184.26,214.17 L184.67,214.11 L185.08,214.03 L185.49,213.94 L185.91,213.83 L186.32,213.72 L186.73,213.61 L187.15,213.49 L187.56,213.38 L187.97,213.28 L188.38,213.20 L188.78,213.13 L189.19,213.08 L189.59,213.06 L190.11,213.09 L190.64,213.16 L191.15,213.29 L191.54,213.42 L191.92,213.57 L192.30,213.74 L192.68,213.92 L193.05,214.12 L193.43,214.33 L193.80,214.56 L194.17,214.78 L194.54,215.02 L194.90,215.25 L195.27,215.48 L195.64,215.71 L196.01,215.94 L196.37,216.16 L196.74,216.37 L197.11,216.57 L197.49,216.76 L197.86,216.94 L198.24,217.11 L198.62,217.26 L199.01,217.39 L199.40,217.50 L199.79,217.60 L200.19,217.68 L200.59,217.74 L200.99,217.79 L201.40,217.82 L201.81,217.85 L202.23,217.87 L202.64,217.88 L203.06,217.89 L203.47,217.90 L203.89,217.91 L204.31,217.91 L204.73,217.93 L205.15,217.94 L205.56,217.96 L205.98,217.98 L206.40,218.01 L206.82,218.04 L207.23,218.07 L207.65,218.11 L208.07,218.14 L208.48,218.18 L208.90,218.23 L209.32,218.27 L209.73,218.32 L210.15,218.37 L210.56,218.42 L210.98,218.47 L211.39,218.52 L211.81,218.57 L212.22,218.62 L212.64,218.67 L213.05,218.72 L213.47,218.78 L213.88,218.83 L214.30,218.88 L214.71,218.93 L215.13,218.97 L215.54,219.02 L215.95,219.07 L216.37,219.11 L216.78,219.15 L217.19,219.19 L217.61,219.22 L218.02,219.26 L218.43,219.29 L218.85,219.31 L219.26,219.34 L219.67,219.36 L220.09,219.37 L220.50,219.38 L220.91,219.39 L221.33,219.39 L221.74,219.39 L222.15,219.38 L222.56,219.37 L222.98,219.35 L223.39,219.33 L223.80,219.30 L224.21,219.26 L224.63,219.22 L225.04,219.17 L225.45,219.11 L225.86,219.05 L226.28,218.98 L226.69,218.90 L227.10,218.81 L227.51,218.72 L227.93,218.62 L228.34,218.51 L228.75,218.41 L229.16,218.31 L229.57,218.21 L229.98,218.12 L230.39,218.04 L230.80,217.98 L231.21,217.93 L231.62,217.90 L232.02,217.89 L232.43,217.90 L232.83,217.94 L233.24,218.00 L233.64,218.09 L234.04,218.19 L234.44,218.30 L234.84,218.42 L235.25,218.55 L235.65,218.68 L236.05,218.81 L236.45,218.93 L236.85,219.05 L237.26,219.16 L237.66,219.26 L238.07,219.35 L238.47,219.43 L238.88,219.51 L239.29,219.57 L239.70,219.63 L240.11,219.68 L240.51,219.72 L240.93,219.76 L241.34,219.79 L241.75,219.82 L242.16,219.84 L242.57,219.85 L242.98,219.86 L243.40,219.87 L243.81,219.88 L244.22,219.88 L244.64,219.88 L245.05,219.87 L245.47,219.87 L245.88,219.86 L246.30,219.85 L246.71,219.84 L247.13,219.83 L247.55,219.83 L247.96,219.82 L248.38,219.81 L248.79,219.81 L249.21,219.80 L249.63,219.80 L250.04,219.80 L250.46,219.81 L250.87,219.82 L251.29,219.83 L251.70,219.84 L252.12,219.86 L252.53,219.88 L252.95,219.91 L253.36,219.93 L253.78,219.96 L254.19,220.00 L254.61,220.03 L255.02,220.06 L255.44,220.10 L255.85,220.14 L256.26,220.17 L256.68,220.21 L257.09,220.25 L257.51,220.29 L257.92,220.32 L258.34,220.36 L258.75,220.40 L259.16,220.43 L259.58,220.47 L259.99,220.50 L260.41,220.53 L260.82,220.56 L261.23,220.59 L261.65,220.61 L262.06,220.64 L262.48,220.66 L262.89,220.68 L263.31,220.70 L263.72,220.72 L264.13,220.74 L264.55,220.76 L264.96,220.77 L265.38,220.79 L265.79,220.80 L266.21,220.82 L266.62,220.83 L267.03,220.84 L267.45,220.85 L267.86,220.86 L268.28,220.87 L268.69,220.88 L269.11,220.89 L269.52,220.90 L269.94,220.90 L270.35,220.91 L270.76,220.92 L271.18,220.92 L271.59,220.93 L272.01,220.93 L272.42,220.94 L272.84,220.94 L273.25,220.95 L273.67,220.95 L274.08,220.96 L274.50,220.96 L274.91,220.97 L275.33,220.97 L275.74,220.98 L276.15,220.98 L276.57,220.99 L276.98,220.99 L277.40,221.00 L277.81,221.01 L278.23,221.01 L278.64,221.02 L279.06,221.03 L279.47,221.03 L279.89,221.04 L280.30,221.05 L280.72,221.05 L281.13,221.06 L281.55,221.07 L281.96,221.08 L282.38,221.09 L282.79,221.09 L283.21,221.10 L283.62,221.11 L284.04,221.12 L284.45,221.13 L284.87,221.14 L285.28,221.15 L285.70,221.16 L286.11,221.16 L286.53,221.17 L286.94,221.18 L287.36,221.19 L287.77,221.20 L288.19,221.21 L288.60,221.22 L289.02,221.23 L289.43,221.24 L289.85,221.25 L290.26,221.26 L290.68,221.26 L291.09,221.27 L291.51,221.28 L291.92,221.29 L292.34,221.30 L292.75,221.31 L293.17,221.32 L293.58,221.33 L294.00,221.34 L294.41,221.34 L294.83,221.35 L295.24,221.36 L295.66,221.37 L296.07,221.38 L296.49,221.38 L296.90,221.39 L297.32,221.40 L297.73,221.41 L298.15,221.42 L298.56,221.42 L298.98,221.43 L299.39,221.44 L299.81,221.44 L300.23,221.45 L300.64,221.46 L301.06,221.46 L301.47,221.47 L301.89,221.47 L302.30,221.48 L302.72,221.48 L303.13,221.49 L303.55,221.49 L303.96,221.50 L304.38,221.50 L304.79,221.50 L305.21,221.51 L305.62,221.51 L306.04,221.51 L306.45,221.52 L306.87,221.52 L307.28,221.52 L307.70,221.52 L308.11,221.52 L308.53,221.52 L308.94,221.52 L309.36,221.52 L309.77,221.52 L310.19,221.52 L310.60,221.52 L311.02,221.52 L311.44,221.52 L311.85,221.52 L312.27,221.51 L312.68,221.51 L313.10,221.51 L313.51,221.50 L313.93,221.50 L314.34,221.49 L314.76,221.49 L315.17,221.48 L315.59,221.47 L316.00,221.47 L316.42,221.46 L316.83,221.45 L317.25,221.44 L317.66,221.43 L317.80,221.43"/>
<path stroke="#264653" d="M420.49,159.75 L420.53,159.33 L420.58,158.91 L420.63,158.49 L420.68,158.07 L420.72,157.64 L420.77,157.22 L420.82,156.80 L420.86,156.38 L420.91,155.96 L420.95,155.54 L421.00,155.11 L421.04,154.69 L421.09,154.27 L421.13,153.85 L421.18,153.43 L421.22,153.01 L421.27,152.58 L421.31,152.16 L421.35,151.74 L421.40,151.32 L421.44,150.90 L421.48,150.48 L421.53,150.05 L421.57,149.63 L421.61,149.21 L421.65,148.79 L421.70,148.37 L421.74,147.95 L421.78,147.53 L421.82,147.11 L421.86,146.68 L421.91,146.26 L421.95,145.84 L421.99,145.42 L422.03,145.00 L422.07,144.58 L422.11,144.16 L422.15,143.74 L422.19,143.31 L422.24,142.89 L422.28,142.47 L422.32,142.05 L422.36,141.63 L422.40,141.21 L422.44,140.79 L422.48,140.37 L422.52,139.95 L422.56,139.52 L422.60,139.10 L422.64,138.68 L422.68,138.26 L422.72,137.84 L422.76,137.42 L422.79,137.00 L422.83,136.58 L422.87,136.16 L422.91,135.74 L422.95,135.31 L422.99,134.89 L423.03,134.47 L423.07,134.05 L423.11,133.63 L423.15,133.21 L423.19,132.79 L423.23,132.37 L423.26,131.95 L423.30,131.53 L423.34,131.11 L423.38,130.68 L423.42,130.26 L423.46,129.84 L423.50,129.42 L423.54,129.00 L423.58,128.58 L423.61,128.16 L423.65,127.74 L423.69,127.32 L423.73,126.90 L423.77,126.47 L423.81,126.05 L423.85,125.63 L423.89,125.21 L423.93,124.79 L423.96,124.37 L424.00,123.95 L424.04,123.53 L424.08,123.11 L424.12,122.68 L424.16,122.26 L424.20,121.84 L424.24,121.42 L424.28,121.00 L424.32,120.58 L424.36,120.16 L424.40,119.74 L424.44,119.31 L424.48,118.89 L424.52,118.47 L424.56,118.05 L424.60,117.63 L424.64,117.21 L424.68,116.79 L424.72,116.36 L424.76,115.94 L424.80,115.52 L424.84,115.10 L424.88,114.68 L424.92,114.26 L424.96,113.83 L425.00,113.41 L425.04,112.99 L425.08,112.57 L425.13,112.15 L425.17,111.73 L425.21,111.30 L425.25,110.88 L425.29,110.46 L425.33,110.04 L425.38,109.62 L425.42,109.19 L425.46,108.77 L425.50,108.35 L425.55,107.93 L425.59,107.51 L425.63,107.08 L425.68,106.66 L425.72,106.24 L425.77,105.82 L425.81,105.40 L425.85,104.97 L425.90,104.55 L425.94,104.13 L425.99,103.71 L426.03,103.28 L426.08,102.86 L426.12,102.44 L426.17,102.02 L426.22,101.60 L426.26,101.17 L426.31,100.75 L426.36,100.33 L426.40,99.91 L426.45,99.49 L426.50,99.07 L426.55,98.64 L426.60,98.22 L426.65,97.80 L426.70,97.38 L426.75,96.96 L426.80,96.54 L426.85,96.11 L426.90,95.69 L426.95,95.27 L427.00,94.85 L427.05,94.43 L427.10,94.01 L427.15,93.59 L427.21,93.17 L427.26,92.75 L427.31,92.33 L427.37,91.91 L427.42,91.49 L427.48,91.07 L427.53,90.65 L427.59,90.23 L427.64,89.81 L427.70,89.39 L427.76,88.97 L427.81,88.55 L427.87,88.13 L427.93,87.71 L427.99,87.29 L428.05,86.87 L428.11,86.45 L428.17,86.03 L428.23,85.61 L428.29,85.20 L428.35,84.78 L428.41,84.36 L428.48,83.94 L428.54,83.53 L428.60,83.11 L428.67,82.69 L428.73,82.27 L428.80,81.86 L428.86,81.44 L428.93,81.02 L429.00,80.61 L429.07,80.19 L429.13,79.78 L429.20,79.36 L429.27,78.94 L429.34,78.53 L429.41,78.11 L429.48,77.70 L429.56,77.28 L429.63,76.87 L429.70,76.46 L429.78,76.04 L429.85,75.63 L429.92,75.22 L430.00,74.80 L430.08,74.39 L430.15,73.98 L430.23,73.56 L430.31,73.15 L430.39,72.74 L430.47,72.33 L430.55,71.92 L430.63,71.51 L430.71,71.10 L430.79,70.69 L430.88,70.27 L430.96,69.86 L431.05,69.45 L431.14,69.04 L431.23,68.64 L431.32,68.23 L431.41,67.82 L431.51,67.41 L431.61,67.00 L431.71,66.59 L431.81,66.18 L431.92,65.77 L432.03,65.36 L432.14,64.95 L432.25,64.54 L432.37,64.13 L432.50,63.72 L432.62,63.31 L432.75,62.90 L432.89,62.49 L433.03,62.08 L433.17,61.66 L433.32,61.25 L433.47,60.84 L433.63,60.43 L433.79,60.02 L433.96,59.62 L434.14,59.22 L434.32,58.82 L434.52,58.44 L434.72,58.06 L434.94,57.69 L435.16,57.34 L435.40,56.99 L435.65,56.66 L435.91,56.35 L436.19,56.05 L436.48,55.77 L436.79,55.50 L437.22,55.20 L437.67,54.99 L438.14,54.95 L438.61,55.09 L439.05,55.36 L439.43,55.74 L439.69,56.07 L439.92,56.42 L440.15,56.80 L440.36,57.18 L440.58,57.57 L440.79,57.95 L440.99,58.34 L441.20,58.72 L441.39,59.11 L441.59,59.49 L441.78,59.88 L441.97,60.27 L442.16,60.66 L442.34,61.05 L442.52,61.44 L442.70,61.83 L442.87,62.22 L443.05,62.61 L443.21,63.00 L443.38,63.40 L443.54,63.79 L443.70,64.18 L443.86,64.58 L444.02,64.97 L444.17,65.37 L444.32,65.76 L444.47,66.16 L444.61,66.56 L444.75,66.96 L444.89,67.35 L445.03,67.75 L445.17,68.15 L445.30,68.55 L445.43,68.95 L445.56,69.35 L445.69,69.75 L445.82,70.15 L445.94,70.56 L446.06,70.96 L446.18,71.36 L446.30,71.77 L446.42,72.17 L446.53,72.57 L446.65,72.98 L446.76,73.38 L446.87,73.79 L446.98,74.20 L447.09,74.60 L447.19,75.01 L447.30,75.42 L447.40,75.82 L447.51,76.23 L447.61,76.64 L447.71,77.05 L447.81,77.46 L447.91,77.87 L448.00,78.28 L448.10,78.69 L448.20,79.10 L448.29,79.51 L448.39,79.92 L448.48,80.33 L448.57,80.74 L448.67,81.16 L448.76,81.57 L448.85,81.98 L448.94,82.39 L449.03,82.81 L449.12,83.22 L449.21,83.64 L449.30,84.05 L449.39,84.47 L449.48,84.88 L449.57,85.30 L449.66,85.71 L449.75,86.13 L449.84,86.54 L449.93,86.96 L450.02,87.38 L450.11,87.79 L450.20,88.21 L450.29,88.63 L450.38,89.04 L450.48,89.46 L450.57,89.88 L450.66,90.30 L450.76,90.71 L450.85,91.13 L450.95,91.54 L451.05,91.96 L451.15,92.38 L451.26,92.79 L451.36,93.20 L451.47,93.61 L451.58,94.03 L451.70,94.44 L451.81,94.85 L451.93,95.25 L452.05,95.66 L452.18,96.07 L452.31,96.47 L452.44,96.87 L452.57,97.27 L452.71,97.67 L452.86,98.07 L453.00,98.46 L453.16,98.85 L453.31,99.24 L453.47,99.63 L453.64,100.02 L453.81,100.40 L453.99,100.78 L454.17,101.16 L454.36,101.54 L454.55,101.91 L454.75,102.28 L454.95,102.65 L455.16,103.01 L455.38,103.37 L455.59,103.73 L455.82,104.09 L456.04,104.45 L456.27,104.80 L456.50,105.16 L456.73,105.51 L456.97,105.86 L457.20,106.22 L457.43,106.57 L457.66,106.93 L457.89,107.28 L458.12,107.64 L458.34,107.99 L458.56,108.35 L458.78,108.72 L458.99,109.08 L459.20,109.45 L459.40,109.82 L459.60,110.19 L459.79,110.57 L459.97,110.95 L460.15,111.33 L460.32,111.72 L460.49,112.11 L460.65,112.50 L460.80,112.90 L460.95,113.29 L461.10,113.69 L461.25,114.09 L461.39,114.49 L461.53,114.90 L461.66,115.30 L461.80,115.70 L461.93,116.11 L462.06,116.51 L462.19,116.92 L462.32,117.33 L462.45,117.73 L462.58,118.14 L462.71,118.54 L462.84,118.94 L462.98,119.35 L463.11,119.75 L463.24,120.15 L463.37,120.55 L463.50,120.95 L463.63,121.35 L463.77,121.75 L463.90,122.15 L464.03,122.55 L464.16,122.95 L464.29,123.35 L464.41,123.75 L464.54,124.15 L464.67,124.56 L464.79,124.96 L464.92,125.36 L465.04,125.76 L465.16,126.16 L465.28,126.56 L465.40,126.96 L465.51,127.37 L465.63,127.77 L465.74,128.17 L465.85,128.58 L465.96,128.99 L466.06,129.39 L466.17,129.80 L466.27,130.21 L466.37,130.62 L466.46,131.03 L466.55,131.44 L466.64,131.85 L466.73,132.27 L466.81,132.69 L466.89,133.10 L466.97,133.52 L467.04,133.94 L467.11,134.36 L467.18,134.78 L467.25,135.21 L467.31,135.63 L467.37,136.06 L467.44,136.48 L467.50,136.91 L467.56,137.33 L467.62,137.76 L467.68,138.18 L467.74,138.61 L467.80,139.03 L467.86,139.46 L467.92,139.88 L467.99,140.31 L468.06,140.73 L468.12,141.15 L468.19,141.58 L468.27,142.00 L468.34,142.41 L468.42,142.83 L468.51,143.25 L468.59,143.66 L468.68,144.08 L468.78,144.49 L468.88,144.90 L468.98,145.30 L469.09,145.71 L469.21,146.11 L469.33,146.51 L469.46,146.91 L469.59,147.30 L469.73,147.70 L469.88,148.09 L470.04,148.47 L470.20,148.85 L470.37,149.23 L470.55,149.61 L470.73,149.98 L470.92,150.36 L471.12,150.72 L471.32,151.09 L471.53,151.45 L471.75,151.81 L471.97,152.17 L472.19,152.53 L472.42,152.88 L472.65,153.24 L472.89,153.59 L473.13,153.93 L473.37,154.28 L473.62,154.63 L473.87,154.97 L474.12,155.32 L474.37,155.66 L474.63,156.00 L474.89,156.34 L475.15,156.68 L475.40,157.02 L475.67,157.36 L475.93,157.69 L476.19,158.03 L476.45,158.37 L476.72,158.70 L476.98,159.04 L477.24,159.38 L477.51,159.71 L477.77,160.05 L478.03,160.39 L478.29,160.72 L478.56,161.06 L478.82,161.40 L479.07,161.73 L479.33,162.07 L479.59,162.41 L479.84,162.75 L480.09,163.09 L480.34,163.44 L480.59,163.78 L480.84,164.12 L481.08,164.47 L481.32,164.81 L481.55,165.16 L481.79,165.51 L482.02,165.86 L482.25,166.22 L482.47,166.57 L482.69,166.93 L482.90,167.29 L483.11,167.65 L483.32,168.01 L483.52,168.38 L483.72,168.74 L483.91,169.11 L484.10,169.48 L484.29,169.86 L484.47,170.23 L484.65,170.61 L484.82,170.99 L485.00,171.37 L485.17,171.75 L485.33,172.13 L485.50,172.52 L485.66,172.90 L485.82,173.29 L485.98,173.68 L486.14,174.07 L486.30,174.46 L486.45,174.85 L486.61,175.24 L486.76,175.63 L486.92,176.03 L487.07,176.42 L487.23,176.81 L487.38,177.21 L487.54,177.60 L487.69,178.00 L487.85,178.39 L488.01,178.79 L488.17,179.18 L488.33,179.58 L488.49,179.98 L488.66,180.37 L488.82,180.76 L488.99,181.16 L489.16,181.55 L489.34,181.95 L489.52,182.34 L489.70,182.73 L489.88,183.12 L490.07,183.51 L490.27,183.90 L490.46,184.29 L490.66,184.67 L490.87,185.06 L491.08,185.44 L491.30,185.83 L491.52,186.21 L491.75,186.59 L491.98,186.97 L492.22,187.34 L492.46,187.70 L492.72,188.05 L492.98,188.39 L493.26,188.71 L493.54,189.01 L493.84,189.28 L494.26,189.60 L494.70,189.86 L495.17,190.05 L495.67,190.17 L496.19,190.22 L496.61,190.21 L497.03,190.17 L497.47,190.10 L497.91,190.01 L498.35,189.91 L498.80,189.81 L499.25,189.70 L499.70,189.60 L500.14,189.51 L500.57,189.44 L500.99,189.39 L501.41,189.37 L501.93,189.40 L502.43,189.51 L502.89,189.71 L503.31,189.99 L503.70,190.33 L504.07,190.68 L504.41,191.07 L504.66,191.43 L504.90,191.85 L505.13,192.33 L505.35,192.85 L505.57,193.36 L505.78,193.85 L505.98,194.31 L506.18,194.71 L506.37,195.07 L506.63,195.49 L506.87,195.87 L507.11,196.23 L507.35,196.59 L507.59,196.96 L507.83,197.35 L508.07,197.79 L508.25,198.15 L508.44,198.53 L508.62,198.94 L508.81,199.37 L509.01,199.80 L509.21,200.25 L509.41,200.70 L509.62,201.14 L509.84,201.58 L510.06,201.99 L510.29,202.39 L510.53,202.76 L510.78,203.11 L511.04,203.44 L511.31,203.75 L511.59,204.05 L511.88,204.33 L512.18,204.60 L512.49,204.85 L512.81,205.10 L513.15,205.33 L513.49,205.55 L513.84,205.76 L514.20,205.96 L514.57,206.15 L514.94,206.34 L515.32,206.51 L515.71,206.68 L516.10,206.83 L516.50,206.99 L516.90,207.13 L517.30,207.27 L517.71,207.41 L518.12,207.54 L518.53,207.67 L518.94,207.79 L519.35,207.92 L519.76,208.04 L520.17,208.16 L520.58,208.28 L520.99,208.39 L521.40,208.50 L521.81,208.59 L522.22,208.69 L522.63,208.79 L523.03,208.89 L523.44,208.99 L523.85,209.10 L524.25,209.20 L524.66,209.31 L525.06,209.41 L525.46,209.52 L525.86,209.63 L526.27,209.75 L526.67,209.86 L527.07,209.98 L527.46,210.11 L527.86,210.24 L528.26,210.38 L528.65,210.52 L529.05,210.66 L529.44,210.82 L529.83,210.98 L530.22,211.15 L530.61,211.32 L531.00,211.50 L531.39,211.69 L531.78,211.88 L532.16,212.07 L532.55,212.26 L532.94,212.45 L533.32,212.63 L533.71,212.82 L534.10,213.00 L534.49,213.17 L534.88,213.34 L535.27,213.49 L535.67,213.64 L536.07,213.77 L536.46,213.89 L536.86,214.00 L537.27,214.09 L537.67,214.16 L538.08,214.22 L538.50,214.25 L538.91,214.27 L539.33,214.26 L539.76,214.23 L540.18,214.19 L540.61,214.14 L541.04,214.08 L541.47,214.02 L541.90,213.95 L542.33,213.88 L542.76,213.82 L543.19,213.77 L543.61,213.72 L544.04,213.69 L544.46,213.68 L544.88,213.68 L545.29,213.71 L545.70,213.76 L546.11,213.82 L546.52,213.91 L546.92,214.01 L547.32,214.12 L547.72,214.25 L548.12,214.42 L548.52,214.68 L548.91,214.97 L549.30,215.26 L549.70,215.50 L550.09,215.66 L550.48,215.82 L550.87,215.96 L551.26,216.10 L551.65,216.23 L552.04,216.35 L552.44,216.46 L552.83,216.57 L553.23,216.67 L553.62,216.76 L554.02,216.85 L554.42,216.93 L554.83,217.01 L555.23,217.08 L555.64,217.15 L556.05,217.21 L556.46,217.27 L556.87,217.32 L557.29,217.37 L557.71,217.41 L558.12,217.45 L558.54,217.49 L558.96,217.52 L559.39,217.55 L559.81,217.58 L560.23,217.61 L560.66,217.63 L561.08,217.65 L561.51,217.67 L561.93,217.69 L562.36,217.71 L562.79,217.73 L563.22,217.75 L563.65,217.76 L564.07,217.78 L564.50,217.80 L564.93,217.81 L565.36,217.83 L565.79,217.85 L566.21,217.88 L566.64,217.90 L567.07,217.93 L567.49,217.95 L567.92,217.98 L568.34,218.02 L568.76,218.06 L569.19,218.10 L569.61,218.14 L570.03,218.18 L570.45,218.23 L570.87,218.27 L571.29,218.32 L571.70,218.37 L572.12,218.41 L572.54,218.46 L572.96,218.51 L573.38,218.55 L573.79,218.59 L574.21,218.63 L574.63,218.67 L575.05,218.71 L575.47,218.74 L575.88,218.77 L576.30,218.80 L576.72,218.82 L577.14,218.84 L577.57,218.85 L577.99,218.85 L578.41,218.85 L578.83,218.85 L579.26,218.83 L579.68,218.81 L580.10,218.79 L580.53,218.75 L580.95,218.70 L581.38,218.65 L581.80,218.59 L582.22,218.52 L582.65,218.44 L583.07,218.36 L583.49,218.28 L583.91,218.20 L584.33,218.13 L584.76,218.06 L585.18,218.00 L585.59,217.95 L586.01,217.92 L586.43,217.90 L586.85,217.90 L587.26,217.93 L587.67,217.97 L588.09,218.02 L588.50,218.10 L588.91,218.18 L589.32,218.27 L589.73,218.38 L590.14,218.49 L590.56,218.61 L590.97,218.73 L591.38,218.85 L591.79,218.98 L592.20,219.10 L592.61,219.22 L593.02,219.34 L593.43,219.46 L593.84,219.57 L594.25,219.67 L594.67,219.76 L595.08,219.85 L595.50,219.93 L595.92,219.99 L596.33,220.05 L596.75,220.10 L597.17,220.14 L597.59,220.18 L598.01,220.21 L598.43,220.24 L598.85,220.26 L599.27,220.27 L599.70,220.29 L600.12,220.30 L600.54,220.31 L600.97,220.32 L601.39,220.32 L601.81,220.33 L602.24,220.34 L602.66,220.34 L603.09,220.35 L603.51,220.37 L603.93,220.38 L604.36,220.40 L604.78,220.42 L605.21,220.45 L605.63,220.47 L606.05,220.50 L606.48,220.53 L606.90,220.56 L607.32,220.60 L607.75,220.63 L608.17,220.67 L608.59,220.70 L609.02,220.74 L609.44,220.78 L609.86,220.82 L610.29,220.85 L610.71,220.89 L611.13,220.92 L611.56,220.96 L611.98,220.99 L612.40,221.02 L612.83,221.05 L613.25,221.08 L613.67,221.10 L614.09,221.13 L614.52,221.15 L614.94,221.16 L615.36,221.18 L615.79,221.19 L616.21,221.19 L616.63,221.20 L617.05,221.20 L617.48,221.20 L617.90,221.19 L618.32,221.18 L618.74,221.17 L619.16,221.16 L619.59,221.15 L620.01,221.13 L620.43,221.11 L620.85,221.10 L621.28,221.08 L621.70,221.05 L622.12,221.03 L622.54,221.01 L622.97,220.99 L623.39,220.97 L623.81,220.94 L624.23,220.92 L624.65,220.90 L625.08,220.88 L625.50,220.86 L625.92,220.84 L626.34,220.82 L626.77,220.80 L627.19,220.79 L627.61,220.77 L628.03,220.76 L628.45,220.75 L628.88,220.74 L629.30,220.74 L629.72,220.74 L630.14,220.74 L630.57,220.74 L630.99,220.75 L631.41,220.75 L631.83,220.76 L632.25,220.77 L632.68,220.79 L633.10,220.80 L633.52,220.82 L633.94,220.84 L634.37,220.86 L634.79,220.88 L635.21,220.90 L635.63,220.93 L636.06,220.95 L636.48,220.98 L636.90,221.00 L637.32,221.03 L637.75,221.06 L638.17,221.09 L638.59,221.12 L639.01,221.15 L639.44,221.17 L639.86,221.20 L640.28,221.23 L640.70,221.26 L641.13,221.29 L641.55,221.32 L641.97,221.35 L642.39,221.38 L642.82,221.41 L643.24,221.43 L643.66,221.46 L644.08,221.48 L644.51,221.51 L644.93,221.53 L645.35,221.55 L645.78,221.57 L646.20,221.59 L646.62,221.61 L647.05,221.63 L647.47,221.65 L647.89,221.66 L648.32,221.68 L648.74,221.69 L649.16,221.71 L649.58,221.72 L650.01,221.73 L650.43,221.74 L650.85,221.75 L651.28,221.76 L651.70,221.77 L652.12,221.78 L652.55,221.78 L652.97,221.79 L653.39,221.79 L653.82,221.80 L654.24,221.80 L654.66,221.81 L655.09,221.81 L655.51,221.81 L655.93,221.81 L656.36,221.81 L656.78,221.81 L657.20,221.81 L657.63,221.81 L658.05,221.81 L658.47,221.81 L658.90,221.80 L659.32,221.80 L659.74,221.80 L660.17,221.79 L660.59,221.79 L661.01,221.78 L661.44,221.77 L661.86,221.77 L662.28,221.76 L662.71,221.75 L663.13,221.75 L663.55,221.74 L663.98,221.73 L664.40,221.72 L664.82,221.71 L665.25,221.70 L665.67,221.69 L666.09,221.68 L666.52,221.67 L666.94,221.66 L667.36,221.65 L667.79,221.64 L668.21,221.62 L668.63,221.61 L669.06,221.60 L669.48,221.59 L669.90,221.57 L670.33,221.56 L670.75,221.55 L671.17,221.54 L671.60,221.52"/>
<path stroke="#27b1bb" d="M420.53,156.41 L420.58,155.98 L420.63,155.56 L420.67,155.14 L420.72,154.72 L420.77,154.30 L420.82,153.88 L420.87,153.45 L420.91,153.03 L420.96,152.61 L421.01,152.19 L421.05,151.77 L421.10,151.35 L421.14,150.93 L421.19,150.50 L421.23,150.08 L421.28,149.66 L421.32,149.24 L421.37,148.82 L421.41,148.40 L421.45,147.98 L421.50,147.55 L421.54,147.13 L421.58,146.71 L421.63,146.29 L421.67,145.87 L421.71,145.45 L421.75,145.03 L421.80,144.61 L421.84,144.18 L421.88,143.76 L421.92,143.34 L421.96,142.92 L422.00,142.50 L422.04,142.08 L422.09,141.66 L422.13,141.24 L422.17,140.82 L422.21,140.39 L422.25,139.97 L422.29,139.55 L422.33,139.13 L422.37,138.71 L422.41,138.29 L422.45,137.87 L422.48,137.45 L422.52,137.03 L422.56,136.61 L422.60,136.18 L422.64,135.76 L422.68,135.34 L422.72,134.92 L422.76,134.50 L422.80,134.08 L422.83,133.66 L422.87,133.24 L422.91,132.82 L422.95,132.40 L422.99,131.98 L423.02,131.55 L423.06,131.13 L423.10,130.71 L423.14,130.29 L423.18,129.87 L423.21,129.45 L423.25,129.03 L423.29,128.61 L423.33,128.19 L423.37,127.77 L423.40,127.35 L423.44,126.93 L423.48,126.50 L423.52,126.08 L423.56,125.66 L423.59,125.24 L423.63,124.82 L423.67,124.40 L423.71,123.98 L423.74,123.56 L423.78,123.14 L423.82,122.72 L423.86,122.30 L423.90,121.88 L423.94,121.46 L423.97,121.04 L424.01,120.61 L424.05,120.19 L424.09,119.77 L424.13,119.35 L424.17,118.93 L424.21,118.51 L424.24,118.09 L424.28,117.67 L424.32,117.25 L424.36,116.83 L424.40,116.41 L424.44,115.99 L424.48,115.57 L424.52,115.15 L424.56,114.73 L424.60,114.30 L424.64,113.88 L424.68,113.46 L424.72,113.04 L424.76,112.62 L424.80,112.20 L424.84,111.78 L424.88,111.36 L424.93,110.94 L424.97,110.52 L425.01,110.10 L425.05,109.68 L425.09,109.26 L425.13,108.84 L425.18,108.42 L425.22,108.00 L425.26,107.58 L425.31,107.15 L425.35,106.73 L425.39,106.31 L425.44,105.89 L425.48,105.47 L425.53,105.05 L425.57,104.63 L425.62,104.21 L425.66,103.79 L425.71,103.37 L425.75,102.95 L425.80,102.53 L425.84,102.11 L425.89,101.69 L425.94,101.27 L425.98,100.85 L426.03,100.43 L426.08,100.01 L426.13,99.59 L426.18,99.16 L426.22,98.74 L426.27,98.32 L426.32,97.90 L426.37,97.48 L426.42,97.06 L426.47,96.64 L426.52,96.22 L426.57,95.80 L426.63,95.38 L426.68,94.96 L426.73,94.54 L426.78,94.12 L426.84,93.70 L426.89,93.28 L426.94,92.86 L427.00,92.44 L427.05,92.02 L427.11,91.59 L427.16,91.17 L427.22,90.75 L427.27,90.33 L427.33,89.91 L427.39,89.49 L427.44,89.07 L427.50,88.65 L427.56,88.23 L427.62,87.81 L427.68,87.39 L427.74,86.97 L427.80,86.55 L427.86,86.13 L427.92,85.71 L427.98,85.29 L428.04,84.87 L428.11,84.45 L428.17,84.03 L428.23,83.61 L428.30,83.19 L428.36,82.77 L428.43,82.35 L428.49,81.93 L428.56,81.51 L428.63,81.09 L428.69,80.68 L428.76,80.26 L428.83,79.84 L428.90,79.42 L428.97,79.00 L429.04,78.59 L429.11,78.17 L429.18,77.75 L429.25,77.34 L429.33,76.92 L429.40,76.50 L429.47,76.09 L429.55,75.67 L429.62,75.26 L429.70,74.84 L429.78,74.43 L429.85,74.01 L429.93,73.60 L430.01,73.19 L430.09,72.77 L430.17,72.36 L430.25,71.95 L430.33,71.54 L430.41,71.13 L430.49,70.72 L430.58,70.30 L430.66,69.89 L430.75,69.48 L430.83,69.08 L430.92,68.67 L431.01,68.26 L431.09,67.85 L431.18,67.44 L431.27,67.04 L431.36,66.63 L431.45,66.22 L431.54,65.82 L431.64,65.41 L431.73,65.01 L431.83,64.61 L431.93,64.20 L432.03,63.80 L432.13,63.39 L432.24,62.99 L432.35,62.59 L432.46,62.18 L432.58,61.78 L432.70,61.38 L432.83,60.97 L432.96,60.57 L433.10,60.16 L433.24,59.76 L433.40,59.35 L433.55,58.94 L433.72,58.54 L433.89,58.13 L434.07,57.72 L434.26,57.31 L434.46,56.90 L434.66,56.49 L434.88,56.08 L435.10,55.67 L435.34,55.29 L435.59,54.92 L435.85,54.58 L436.12,54.27 L436.51,53.92 L436.92,53.66 L437.36,53.49 L437.84,53.43 L438.34,53.50 L438.84,53.68 L439.21,53.87 L439.56,54.11 L439.87,54.39 L440.15,54.71 L440.41,55.05 L440.65,55.41 L440.87,55.79 L441.08,56.18 L441.27,56.58 L441.47,56.98 L441.66,57.38 L441.84,57.77 L442.03,58.17 L442.21,58.56 L442.39,58.96 L442.57,59.35 L442.74,59.74 L442.91,60.14 L443.08,60.53 L443.25,60.92 L443.41,61.31 L443.57,61.71 L443.73,62.10 L443.89,62.49 L444.04,62.88 L444.20,63.28 L444.35,63.67 L444.50,64.07 L444.64,64.46 L444.79,64.86 L444.93,65.25 L445.07,65.65 L445.21,66.04 L445.34,66.44 L445.48,66.84 L445.61,67.23 L445.74,67.63 L445.87,68.03 L446.00,68.43 L446.13,68.83 L446.25,69.22 L446.37,69.62 L446.49,70.02 L446.61,70.42 L446.73,70.82 L446.85,71.22 L446.96,71.63 L447.07,72.03 L447.18,72.43 L447.30,72.83 L447.40,73.23 L447.51,73.64 L447.62,74.04 L447.72,74.45 L447.83,74.85 L447.93,75.26 L448.03,75.66 L448.13,76.07 L448.23,76.47 L448.33,76.88 L448.42,77.29 L448.52,77.70 L448.61,78.11 L448.71,78.51 L448.80,78.92 L448.89,79.33 L448.99,79.75 L449.08,80.16 L449.17,80.57 L449.25,80.98 L449.34,81.39 L449.43,81.81 L449.52,82.22 L449.60,82.64 L449.69,83.05 L449.77,83.47 L449.86,83.88 L449.94,84.30 L450.03,84.72 L450.11,85.14 L450.19,85.56 L450.27,85.98 L450.36,86.40 L450.44,86.82 L450.52,87.24 L450.60,87.66 L450.68,88.08 L450.76,88.51 L450.84,88.93 L450.92,89.35 L451.00,89.78 L451.08,90.21 L451.16,90.63 L451.24,91.06 L451.32,91.49 L451.40,91.92 L451.48,92.35 L451.56,92.78 L451.64,93.21 L451.73,93.64 L451.81,94.07 L451.89,94.51 L451.97,94.94 L452.06,95.37 L452.15,95.80 L452.24,96.22 L452.34,96.65 L452.44,97.07 L452.55,97.49 L452.66,97.90 L452.77,98.31 L452.90,98.72 L453.03,99.12 L453.17,99.51 L453.32,99.90 L453.48,100.27 L453.64,100.65 L453.82,101.01 L454.01,101.37 L454.27,101.83 L454.56,102.27 L454.87,102.69 L455.21,103.10 L455.57,103.48 L455.96,103.84 L456.38,104.15 L456.86,104.35 L457.27,104.40 L457.71,104.37 L458.16,104.29 L458.60,104.22 L459.00,104.20 L459.47,104.29 L459.84,104.55 L460.13,104.93 L460.37,105.39 L460.53,105.78 L460.68,106.18 L460.82,106.59 L460.95,107.00 L461.09,107.41 L461.22,107.82 L461.35,108.23 L461.48,108.64 L461.61,109.04 L461.74,109.45 L461.86,109.86 L461.98,110.27 L462.10,110.68 L462.22,111.09 L462.34,111.50 L462.45,111.91 L462.57,112.32 L462.68,112.73 L462.79,113.14 L462.90,113.55 L463.00,113.96 L463.11,114.37 L463.21,114.78 L463.31,115.19 L463.42,115.60 L463.51,116.01 L463.61,116.42 L463.71,116.84 L463.80,117.25 L463.90,117.66 L463.99,118.07 L464.08,118.48 L464.17,118.89 L464.26,119.31 L464.35,119.72 L464.44,120.13 L464.52,120.54 L464.61,120.95 L464.69,121.37 L464.77,121.78 L464.85,122.19 L464.93,122.61 L465.01,123.02 L465.09,123.43 L465.17,123.85 L465.25,124.26 L465.33,124.67 L465.40,125.09 L465.48,125.50 L465.55,125.92 L465.63,126.33 L465.70,126.75 L465.77,127.16 L465.84,127.58 L465.91,127.99 L465.99,128.41 L466.06,128.82 L466.13,129.24 L466.20,129.65 L466.27,130.07 L466.34,130.49 L466.40,130.90 L466.47,131.32 L466.54,131.74 L466.61,132.15 L466.68,132.57 L466.74,132.99 L466.81,133.41 L466.88,133.82 L466.95,134.24 L467.01,134.66 L467.08,135.08 L467.15,135.50 L467.22,135.92 L467.29,136.34 L467.35,136.76 L467.42,137.18 L467.49,137.60 L467.56,138.02 L467.63,138.44 L467.70,138.86 L467.76,139.28 L467.83,139.70 L467.90,140.12 L467.98,140.54 L468.05,140.96 L468.12,141.38 L468.19,141.81 L468.27,142.23 L468.34,142.65 L468.42,143.07 L468.50,143.49 L468.58,143.91 L468.67,144.33 L468.75,144.74 L468.84,145.16 L468.94,145.57 L469.03,145.99 L469.13,146.40 L469.24,146.81 L469.34,147.22 L469.45,147.63 L469.57,148.03 L469.69,148.44 L469.81,148.84 L469.94,149.24 L470.08,149.63 L470.22,150.03 L470.37,150.42 L470.52,150.81 L470.68,151.19 L470.84,151.58 L471.01,151.96 L471.19,152.33 L471.37,152.71 L471.56,153.08 L471.76,153.45 L471.97,153.81 L472.18,154.17 L472.40,154.52 L472.63,154.88 L472.87,155.23 L473.11,155.58 L473.35,155.92 L473.60,156.26 L473.85,156.60 L474.11,156.94 L474.37,157.28 L474.63,157.61 L474.89,157.95 L475.16,158.28 L475.42,158.62 L475.69,158.95 L475.96,159.28 L476.22,159.61 L476.49,159.95 L476.75,160.28 L477.02,160.61 L477.28,160.95 L477.54,161.28 L477.80,161.62 L478.06,161.95 L478.32,162.29 L478.58,162.63 L478.83,162.96 L479.08,163.30 L479.33,163.64 L479.58,163.99 L479.82,164.33 L480.07,164.68 L480.31,165.02 L480.54,165.37 L480.77,165.73 L481.00,166.08 L481.23,166.44 L481.45,166.79 L481.67,167.15 L481.88,167.52 L482.09,167.88 L482.29,168.25 L482.49,168.62 L482.68,169.00 L482.87,169.38 L483.06,169.76 L483.24,170.14 L483.42,170.53 L483.59,170.91 L483.76,171.30 L483.93,171.70 L484.09,172.09 L484.25,172.48 L484.41,172.88 L484.57,173.28 L484.72,173.68 L484.87,174.08 L485.02,174.48 L485.17,174.88 L485.32,175.28 L485.46,175.68 L485.61,176.08 L485.75,176.48 L485.90,176.88 L486.04,177.28 L486.19,177.68 L486.33,178.08 L486.48,178.48 L486.62,178.88 L486.77,179.27 L486.92,179.67 L487.07,180.06 L487.22,180.45 L487.37,180.84 L487.53,181.23 L487.68,181.61 L487.84,182.00 L488.01,182.38 L488.17,182.76 L488.34,183.13 L488.51,183.51 L488.68,183.88 L488.85,184.26 L489.02,184.63 L489.19,185.00 L489.37,185.38 L489.54,185.75 L489.72,186.13 L489.90,186.50 L490.07,186.88 L490.25,187.26 L490.43,187.64 L490.60,188.02 L490.78,188.40 L490.95,188.79 L491.13,189.18 L491.30,189.57 L491.47,189.97 L491.64,190.37 L491.81,190.78 L491.98,191.19 L492.14,191.60 L492.31,192.02 L492.47,192.44 L492.63,192.87 L492.79,193.30 L492.96,193.72 L493.14,194.12 L493.34,194.49 L493.57,194.84 L493.92,195.23 L494.34,195.53 L494.82,195.74 L495.33,195.85 L495.86,195.87 L496.26,195.82 L496.66,195.72 L497.03,195.56 L497.38,195.35 L497.71,195.09 L498.00,194.78 L498.28,194.44 L498.54,194.06 L498.78,193.67 L499.02,193.25 L499.24,192.83 L499.47,192.41 L499.69,192.00 L499.91,191.60 L500.15,191.22 L500.39,190.86 L500.65,190.54 L501.02,190.19 L501.44,189.92 L501.90,189.77 L502.39,189.73 L502.89,189.80 L503.37,189.99 L503.78,190.27 L504.15,190.65 L504.40,190.98 L504.63,191.34 L504.85,191.74 L505.05,192.15 L505.24,192.58 L505.42,193.01 L505.60,193.44 L505.78,193.87 L505.97,194.28 L506.16,194.68 L506.36,195.05 L506.57,195.40 L506.85,195.84 L507.14,196.27 L507.43,196.70 L507.71,197.15 L507.91,197.50 L508.11,197.86 L508.30,198.24 L508.49,198.64 L508.67,199.04 L508.85,199.45 L509.03,199.86 L509.22,200.28 L509.41,200.69 L509.60,201.10 L509.80,201.50 L510.01,201.90 L510.22,202.28 L510.45,202.64 L510.69,203.00 L510.95,203.33 L511.21,203.65 L511.49,203.95 L511.78,204.24 L512.08,204.51 L512.39,204.77 L512.70,205.02 L513.03,205.25 L513.37,205.48 L513.71,205.69 L514.07,205.89 L514.43,206.08 L514.79,206.26 L515.17,206.44 L515.54,206.61 L515.93,206.77 L516.32,206.92 L516.71,207.07 L517.11,207.21 L517.52,207.34 L517.92,207.48 L518.33,207.61 L518.74,207.73 L519.16,207.86 L519.57,207.98 L519.99,208.10 L520.40,208.22 L520.82,208.35 L521.23,208.47 L521.65,208.59 L522.06,208.72 L522.48,208.85 L522.89,208.99 L523.29,209.12 L523.70,209.27 L524.10,209.41 L524.50,209.57 L524.89,209.73 L525.28,209.90 L525.66,210.07 L526.04,210.25 L526.42,210.43 L526.80,210.62 L527.17,210.81 L527.54,211.01 L527.91,211.20 L528.27,211.40 L528.64,211.60 L529.00,211.80 L529.37,212.00 L529.73,212.20 L530.10,212.40 L530.47,212.59 L530.83,212.78 L531.20,212.97 L531.58,213.15 L531.95,213.33 L532.33,213.51 L532.71,213.67 L533.09,213.83 L533.48,213.99 L533.87,214.13 L534.27,214.27 L534.68,214.40 L535.08,214.51 L535.50,214.62 L535.92,214.72 L536.35,214.80 L536.78,214.87 L537.22,214.92 L537.66,214.95 L538.10,214.96 L538.54,214.95 L538.98,214.91 L539.41,214.84 L539.85,214.75 L540.28,214.64 L540.70,214.52 L541.13,214.39 L541.55,214.26 L541.97,214.12 L542.38,214.00 L542.79,213.88 L543.21,213.78 L543.61,213.70 L544.02,213.64 L544.42,213.61 L544.83,213.62 L545.22,213.66 L545.62,213.74 L546.02,213.85 L546.41,213.98 L546.81,214.14 L547.20,214.31 L547.59,214.50 L547.98,214.69 L548.38,214.88 L548.77,215.08 L549.17,215.26 L549.56,215.44 L549.96,215.61 L550.36,215.77 L550.76,215.92 L551.16,216.06 L551.56,216.20 L551.96,216.32 L552.37,216.44 L552.77,216.55 L553.18,216.66 L553.59,216.75 L554.00,216.84 L554.41,216.93 L554.82,217.01 L555.23,217.08 L555.64,217.15 L556.05,217.21 L556.46,217.27 L556.88,217.32 L557.29,217.37 L557.71,217.41 L558.12,217.45 L558.54,217.49 L558.96,217.52 L559.38,217.55 L559.79,217.58 L560.21,217.61 L560.63,217.63 L561.05,217.65 L561.47,217.67 L561.89,217.69 L562.31,217.71 L562.74,217.73 L563.16,217.74 L563.58,217.76 L564.00,217.78 L564.42,217.79 L564.85,217.81 L565.27,217.83 L565.69,217.85 L566.12,217.87 L566.54,217.89 L566.96,217.92 L567.39,217.95 L567.81,217.98 L568.23,218.01 L568.65,218.05 L569.08,218.08 L569.50,218.13 L569.92,218.17 L570.35,218.21 L570.77,218.26 L571.19,218.31 L571.61,218.36 L572.04,218.40 L572.46,218.45 L572.88,218.50 L573.30,218.54 L573.72,218.59 L574.15,218.63 L574.57,218.67 L574.99,218.70 L575.41,218.74 L575.83,218.77 L576.25,218.79 L576.68,218.82 L577.10,218.83 L577.52,218.85 L577.94,218.85 L578.36,218.85 L578.78,218.85 L579.20,218.84 L579.62,218.82 L580.04,218.79 L580.46,218.76 L580.88,218.71 L581.30,218.66 L581.72,218.60 L582.14,218.53 L582.56,218.46 L582.98,218.38 L583.40,218.30 L583.82,218.22 L584.24,218.14 L584.66,218.07 L585.08,218.01 L585.50,217.96 L585.92,217.93 L586.34,217.90 L586.76,217.90 L587.17,217.92 L587.59,217.96 L588.01,218.01 L588.43,218.08 L588.84,218.16 L589.26,218.26 L589.67,218.36 L590.09,218.47 L590.50,218.59 L590.91,218.71 L591.32,218.83 L591.72,218.96 L592.13,219.08 L592.54,219.20 L592.95,219.32 L593.35,219.44 L593.76,219.55 L594.17,219.65 L594.58,219.74 L594.99,219.83 L595.40,219.91 L595.82,219.98 L596.23,220.04 L596.65,220.09 L597.07,220.13 L597.49,220.17 L597.91,220.20 L598.33,220.23 L598.75,220.25 L599.17,220.27 L599.60,220.28 L600.02,220.30 L600.45,220.31 L600.87,220.31 L601.30,220.32 L601.72,220.33 L602.15,220.33 L602.58,220.34 L603.00,220.35 L603.43,220.36 L603.85,220.38 L604.28,220.40 L604.70,220.42 L605.13,220.44 L605.55,220.47 L605.97,220.50 L606.40,220.53 L606.82,220.56 L607.24,220.59 L607.67,220.63 L608.09,220.66 L608.51,220.70 L608.93,220.73 L609.36,220.77 L609.78,220.81 L610.20,220.84 L610.62,220.88 L611.04,220.92 L611.47,220.95 L611.89,220.98 L612.31,221.02 L612.73,221.05 L613.15,221.07 L613.57,221.10 L613.99,221.12 L614.42,221.14 L614.84,221.16 L615.26,221.17 L615.68,221.19 L616.10,221.19 L616.52,221.20 L616.95,221.20 L617.37,221.20 L617.79,221.19 L618.21,221.19 L618.63,221.18 L619.06,221.16 L619.48,221.15 L619.90,221.14 L620.32,221.12 L620.75,221.10 L621.17,221.08 L621.59,221.06 L622.01,221.04 L622.44,221.02 L622.86,220.99 L623.28,220.97 L623.70,220.95 L624.13,220.93 L624.55,220.91 L624.97,220.88 L625.39,220.86 L625.82,220.84 L626.24,220.82 L626.66,220.81 L627.08,220.79 L627.51,220.78 L627.93,220.76 L628.35,220.75 L628.77,220.75 L629.20,220.74 L629.62,220.74 L630.04,220.74 L630.46,220.74 L630.88,220.74 L631.31,220.75 L631.73,220.76 L632.15,220.77 L632.57,220.78 L632.99,220.80 L633.42,220.82 L633.84,220.83 L634.26,220.85 L634.68,220.87 L635.10,220.90 L635.52,220.92 L635.95,220.94 L636.37,220.97 L636.79,221.00 L637.21,221.02 L637.63,221.05 L638.06,221.08 L638.48,221.11 L638.90,221.14 L639.32,221.17 L639.74,221.20 L640.16,221.23 L640.59,221.26 L641.01,221.28 L641.43,221.31 L641.85,221.34 L642.27,221.37 L642.70,221.40 L643.12,221.43 L643.54,221.45 L643.96,221.48 L644.39,221.50 L644.81,221.52 L645.23,221.55 L645.65,221.57 L646.08,221.59 L646.50,221.61 L646.92,221.62 L647.34,221.64 L647.77,221.66 L648.19,221.67 L648.61,221.69 L649.04,221.70 L649.46,221.71 L649.88,221.73 L650.30,221.74 L650.73,221.75 L651.15,221.76 L651.57,221.77 L652.00,221.77 L652.42,221.78 L652.84,221.79 L653.27,221.79 L653.69,221.80 L654.11,221.80 L654.53,221.81 L654.96,221.81 L655.38,221.81 L655.80,221.81 L656.23,221.81 L656.65,221.81 L657.07,221.81 L657.50,221.81 L657.92,221.81 L658.34,221.81 L658.77,221.80 L659.19,221.80 L659.61,221.80 L660.04,221.79 L660.46,221.79 L660.88,221.78 L661.31,221.78 L661.73,221.77 L662.15,221.76 L662.58,221.76 L663.00,221.75 L663.42,221.74 L663.85,221.73 L664.27,221.72 L664.69,221.71 L665.11,221.70 L665.54,221.69 L665.96,221.68 L666.38,221.67 L666.81,221.66 L667.23,221.65 L667.65,221.64 L668.07,221.63 L668.50,221.62 L668.92,221.60 L669.34,221.59 L669.77,221.58 L670.19,221.57 L670.61,221.55 L671.03,221.54 L671.46,221.53 L671.88,221.51 L672.30,221.50"/>
</g>
<g transform="translate(0,0)" fill="#fff" stroke-width="1.6">
<rect x="160.15" y="295.85" width="15.55" height="15.6" stroke="#264653"/>
<rect x="212.85" y="295.85" width="15.5" height="15.6" stroke="#27b1bb"/>
</g>
<g transform="translate(354.5,0)" fill="#fff" stroke-width="1.6">
<rect x="160.15" y="295.85" width="15.55" height="15.6" stroke="#264653"/>
<rect x="212.85" y="295.85" width="15.5" height="15.6" stroke="#27b1bb"/>
</g>
<g class="t" style="filter:grayscale(1)">
<text x="64.45" y="244.1" text-anchor="middle">0</text>
<text x="134.77" y="244.1" text-anchor="middle">50</text>
<text x="205.08" y="244.1" text-anchor="middle">100</text>
<text x="275.40" y="244.1" text-anchor="middle">150</text>
<text x="418.95" y="244.1" text-anchor="middle">0</text>
<text x="489.26" y="244.1" text-anchor="middle">50</text>
<text x="559.58" y="244.1" text-anchor="middle">100</text>
<text x="629.89" y="244.1" text-anchor="middle">150</text>
<text x="47.20" y="225.30" text-anchor="end" textLength="18.4">0.00</text>
<text x="47.20" y="161.10" text-anchor="end" textLength="18.4">0.01</text>
<text x="47.20" y="96.90" text-anchor="end" textLength="18.4">0.02</text>
<text x="401.70" y="225.30" text-anchor="end" textLength="18.4">0.00</text>
<text x="401.70" y="161.10" text-anchor="end" textLength="18.4">0.01</text>
<text x="401.70" y="96.90" text-anchor="end" textLength="18.4">0.02</text>
</g>
<g fill="#000" style="filter:grayscale(1)">
<text x="95.8" y="12.1" font-size="15" textLength="18.4" lengthAdjust="spacingAndGlyphs">(a)</text>
<text x="122.0" y="12.1" font-size="15" textLength="67.0" lengthAdjust="spacingAndGlyphs">Treatment</text>
<text x="196.2" y="12.1" font-size="15" textLength="43.3" lengthAdjust="spacingAndGlyphs">Group</text>
<text x="459.7" y="12.1" font-size="15" textLength="19.2" lengthAdjust="spacingAndGlyphs">(b)</text>
<text x="486.0" y="12.1" font-size="15" textLength="48.1" lengthAdjust="spacingAndGlyphs">Control</text>
<text x="541.8" y="12.1" font-size="15" textLength="43.2" lengthAdjust="spacingAndGlyphs">Group</text>
<text x="133.3" y="272.2" font-size="12.5" textLength="28.6" lengthAdjust="spacingAndGlyphs">Time</text>
<text x="167.6" y="272.2" font-size="12.5" textLength="10.5" lengthAdjust="spacingAndGlyphs">to</text>
<text x="183.0" y="272.2" font-size="12.5" textLength="29.4" lengthAdjust="spacingAndGlyphs">Work</text>
<text x="218.6" y="272.2" font-size="12.5" textLength="31.3" lengthAdjust="spacingAndGlyphs">[min.]</text>
<text x="487.8" y="272.2" font-size="12.5" textLength="28.6" lengthAdjust="spacingAndGlyphs">Time</text>
<text x="522.1" y="272.2" font-size="12.5" textLength="10.5" lengthAdjust="spacingAndGlyphs">to</text>
<text x="537.5" y="272.2" font-size="12.5" textLength="29.4" lengthAdjust="spacingAndGlyphs">Work</text>
<text x="573.1" y="272.2" font-size="12.5" textLength="31.3" lengthAdjust="spacingAndGlyphs">[min.]</text>
<text transform="translate(9.3,152.9) rotate(-90)" font-size="12.5" textLength="42.6" lengthAdjust="spacingAndGlyphs">Density</text>
<text transform="translate(363.8,152.9) rotate(-90)" font-size="12.5" textLength="42.6" lengthAdjust="spacingAndGlyphs">Density</text>
<g transform="translate(0,0)">
<text x="126.9" y="307.7" font-size="12.5" textLength="24.8" lengthAdjust="spacingAndGlyphs">Year</text>
<text x="183.9" y="307.3" font-size="10.3" textLength="20.3">2019</text>
<text x="237" y="307.3" font-size="10.3" textLength="19.6">2021</text>
</g>
<g transform="translate(354.5,0)">
<text x="126.9" y="307.7" font-size="12.5" textLength="24.8" lengthAdjust="spacingAndGlyphs">Year</text>
<text x="183.9" y="307.3" font-size="10.3" textLength="20.3">2019</text>
<text x="237" y="307.3" font-size="10.3" textLength="19.6">2021</text>
</g>
</g>
</svg>
</body></html>
